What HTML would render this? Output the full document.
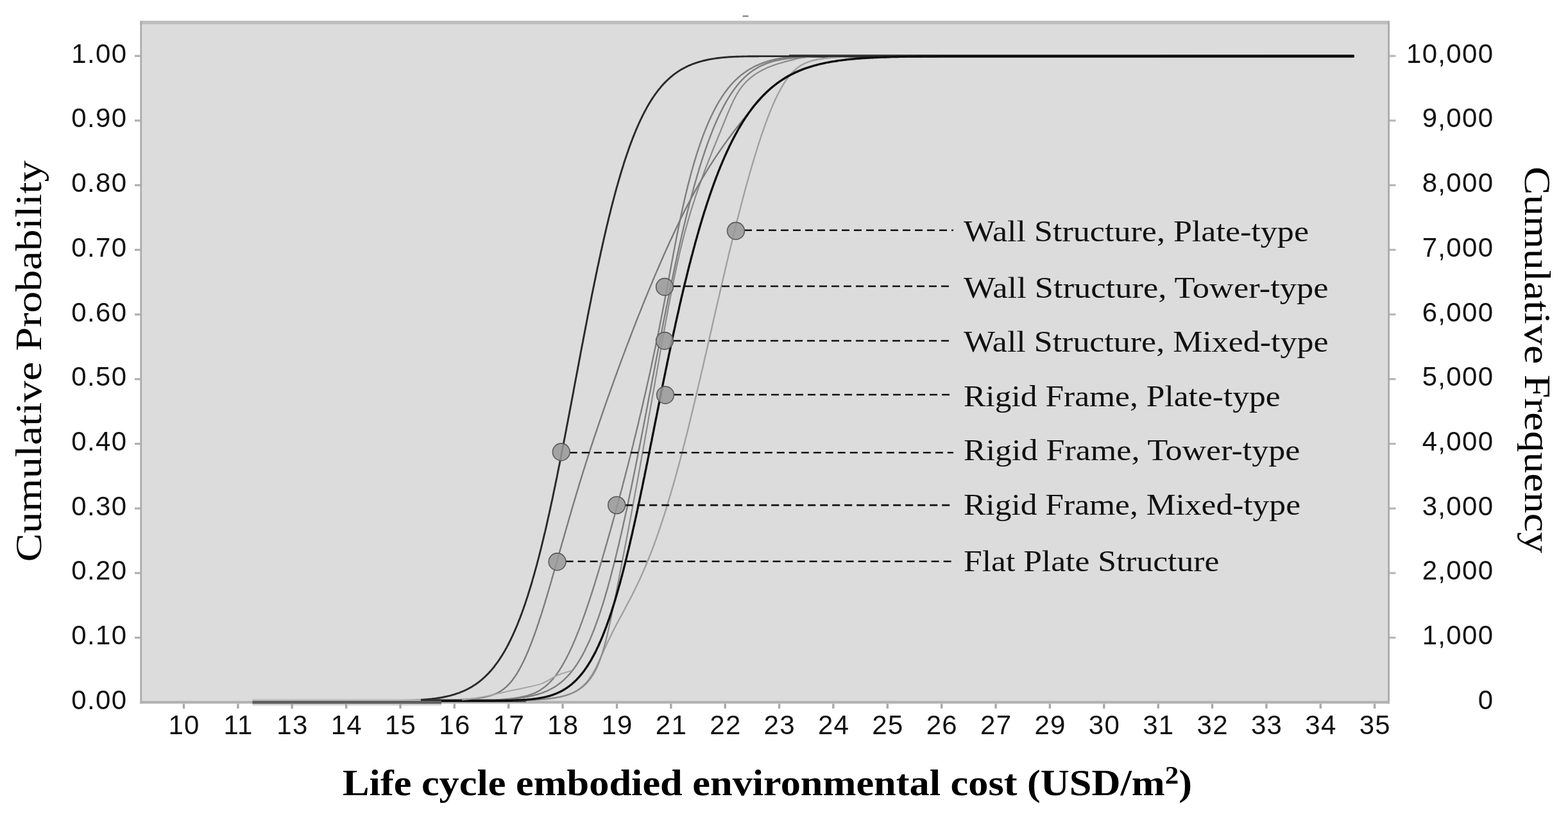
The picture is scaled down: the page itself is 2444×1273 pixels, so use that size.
<!DOCTYPE html><html><head><meta charset="utf-8"><title>Cumulative probability chart</title><style>html,body{margin:0;padding:0;background:#fff;overflow:hidden;}svg{display:block;}.tk{font-family:"Liberation Sans",Arial,sans-serif;font-size:42px;letter-spacing:1.3px;fill:#111;}.lg{font-family:"Liberation Serif","Times New Roman",serif;font-size:47px;fill:#111;}.ax{font-family:"Liberation Serif","Times New Roman",serif;font-size:58px;fill:#000;}.axb{font-family:"Liberation Serif","Times New Roman",serif;font-size:58px;font-weight:bold;fill:#000;}</style></head><body>
<svg width="2444" height="1273" viewBox="0 0 2444 1273">
<rect x="0" y="0" width="2444" height="1273" fill="#ffffff"/>
<rect x="218.5" y="33.0" width="1947.5" height="1063.5" fill="#dcdcdc"/>
<rect x="218.5" y="32.3" width="1947.5" height="5.5" fill="#bebebe"/>
<rect x="1157.5" y="24" width="9" height="2.4" fill="#8a8a8a"/>
<rect x="218.5" y="33.0" width="2.6" height="1063.5" fill="#aaaaaa"/>
<rect x="2163.2" y="33.0" width="2.8" height="1063.5" fill="#aaaaaa"/>
<rect x="218.5" y="1092.2" width="1947.5" height="4" fill="#b2b2b2"/>
<rect x="210" y="992.0" width="9" height="3.2" fill="#b0b0b0"/>
<rect x="2166.0" y="992.0" width="9.5" height="3.2" fill="#b8b8b8"/>
<rect x="210" y="891.3" width="9" height="3.2" fill="#b0b0b0"/>
<rect x="2166.0" y="891.3" width="9.5" height="3.2" fill="#b8b8b8"/>
<rect x="210" y="790.6" width="9" height="3.2" fill="#b0b0b0"/>
<rect x="2166.0" y="790.6" width="9.5" height="3.2" fill="#b8b8b8"/>
<rect x="210" y="689.9" width="9" height="3.2" fill="#b0b0b0"/>
<rect x="2166.0" y="689.9" width="9.5" height="3.2" fill="#b8b8b8"/>
<rect x="210" y="589.1" width="9" height="3.2" fill="#b0b0b0"/>
<rect x="2166.0" y="589.1" width="9.5" height="3.2" fill="#b8b8b8"/>
<rect x="210" y="488.4" width="9" height="3.2" fill="#b0b0b0"/>
<rect x="2166.0" y="488.4" width="9.5" height="3.2" fill="#b8b8b8"/>
<rect x="210" y="387.7" width="9" height="3.2" fill="#b0b0b0"/>
<rect x="2166.0" y="387.7" width="9.5" height="3.2" fill="#b8b8b8"/>
<rect x="210" y="287.0" width="9" height="3.2" fill="#b0b0b0"/>
<rect x="2166.0" y="287.0" width="9.5" height="3.2" fill="#b8b8b8"/>
<rect x="210" y="186.3" width="9" height="3.2" fill="#b0b0b0"/>
<rect x="2166.0" y="186.3" width="9.5" height="3.2" fill="#b8b8b8"/>
<rect x="210" y="85.6" width="9" height="3.2" fill="#b0b0b0"/>
<rect x="2166.0" y="85.6" width="9.5" height="3.2" fill="#b8b8b8"/>
<g fill="none" stroke-linecap="butt" stroke-linejoin="round">
<path d="M688,1091.8 L820,1091.8" stroke="#3a3a3a" stroke-width="4.6"/>
<path d="M1230,87.5 L2110,87.5" stroke="#444" stroke-width="4.8"/>
<path d="M394.0,1092.0 L768.9,1091.9 L770.5,1091.9 L772.1,1091.9 L773.7,1091.9 L775.3,1091.8 L776.9,1091.8 L778.6,1091.8 L780.2,1091.8 L781.8,1091.8 L783.4,1091.8 L785.0,1091.8 L786.6,1091.8 L788.2,1091.7 L789.8,1091.7 L791.4,1091.7 L793.0,1091.7 L794.6,1091.7 L796.2,1091.7 L797.8,1091.6 L799.5,1091.6 L801.1,1091.6 L802.7,1091.6 L804.3,1091.5 L805.9,1091.5 L807.5,1091.5 L809.1,1091.4 L810.7,1091.4 L812.3,1091.4 L813.9,1091.3 L815.5,1091.3 L817.1,1091.2 L818.7,1091.2 L820.4,1091.2 L822.0,1091.1 L823.6,1091.0 L825.2,1091.0 L826.8,1090.9 L828.4,1090.9 L830.0,1090.8 L831.6,1090.7 L833.2,1090.6 L834.8,1090.5 L836.4,1090.5 L838.0,1090.4 L839.6,1090.3 L841.3,1090.2 L842.9,1090.0 L844.5,1089.9 L846.1,1089.8 L847.7,1089.7 L849.3,1089.5 L850.9,1089.4 L852.5,1089.2 L854.1,1089.0 L855.7,1088.8 L856.8,1088.7 L857.9,1088.6 L858.9,1088.4 L860.0,1088.3 L861.1,1088.1 L862.1,1088.0 L863.2,1087.8 L864.3,1087.6 L865.4,1087.5 L866.4,1087.3 L867.5,1087.1 L868.6,1086.9 L869.7,1086.7 L870.7,1086.5 L871.8,1086.2 L872.9,1086.0 L873.9,1085.8 L875.0,1085.5 L876.1,1085.2 L877.2,1085.0 L878.2,1084.7 L879.3,1084.4 L880.4,1084.1 L881.4,1083.8 L882.5,1083.4 L883.6,1083.1 L884.7,1082.7 L885.7,1082.3 L886.8,1082.0 L887.9,1081.5 L888.9,1081.1 L890.0,1080.7 L891.1,1080.2 L892.1,1079.8 L893.2,1079.3 L894.2,1078.7 L895.3,1078.2 L896.3,1077.7 L897.3,1077.1 L898.3,1076.5 L899.4,1075.9 L900.4,1075.2 L901.4,1074.5 L902.4,1073.8 L903.4,1073.1 L904.4,1072.3 L905.4,1071.6 L906.3,1070.7 L907.3,1069.9 L908.3,1069.0 L909.3,1068.1 L910.3,1067.1 L911.2,1066.2 L912.2,1065.1 L913.2,1064.1 L914.2,1063.0 L915.1,1061.8 L916.1,1060.6 L917.1,1059.4 L918.1,1058.1 L919.0,1056.7 L920.0,1055.3 L920.5,1054.6 L921.0,1053.9 L921.5,1053.2 L922.0,1052.4 L922.5,1051.6 L922.9,1050.9 L923.4,1050.1 L923.9,1049.3 L924.4,1048.4 L924.9,1047.6 L925.4,1046.7 L925.9,1045.9 L926.4,1045.0 L926.9,1044.1 L927.4,1043.1 L927.9,1042.2 L928.4,1041.2 L928.9,1040.3 L929.4,1039.3 L929.9,1038.3 L930.4,1037.2 L930.9,1036.2 L931.4,1035.1 L931.9,1034.0 L932.4,1032.9 L932.9,1031.8 L933.5,1030.7 L934.0,1029.5 L934.5,1028.3 L935.1,1027.1 L935.6,1025.9 L936.2,1024.6 L936.8,1023.4 L937.3,1022.1 L937.9,1020.8 L938.5,1019.4 L939.1,1018.1 L939.8,1016.7 L940.4,1015.3 L941.0,1013.9 L941.7,1012.4 L942.4,1010.9 L943.0,1009.4 L943.7,1007.9 L944.5,1006.3 L945.2,1004.8 L945.9,1003.1 L946.7,1001.5 L947.5,999.8 L948.3,998.2 L949.1,996.4 L950.0,994.7 L950.8,992.9 L951.7,991.1 L952.6,989.3 L953.5,987.4 L954.5,985.5 L955.4,983.6 L956.4,981.7 L957.4,979.7 L958.5,977.7 L959.6,975.6 L960.6,973.5 L961.8,971.4 L962.9,969.3 L964.1,967.1 L965.2,964.9 L966.4,962.7 L967.7,960.4 L968.9,958.1 L970.2,955.8 L971.5,953.4 L972.7,951.0 L974.1,948.5 L975.4,946.0 L976.7,943.5 L978.1,941.0 L979.4,938.4 L980.8,935.8 L982.2,933.1 L983.6,930.4 L985.0,927.7 L986.4,924.9 L987.8,922.1 L989.2,919.3 L990.6,916.4 L992.0,913.5 L993.5,910.5 L994.9,907.5 L996.3,904.5 L997.7,901.4 L999.2,898.3 L1000.6,895.1 L1002.0,891.9 L1003.4,888.7 L1004.8,885.4 L1006.2,882.1 L1007.6,878.8 L1009.0,875.4 L1010.4,872.0 L1011.8,868.5 L1013.2,865.0 L1014.6,861.5 L1016.0,857.9 L1017.3,854.3 L1018.7,850.7 L1020.1,847.0 L1021.4,843.2 L1022.8,839.5 L1024.1,835.7 L1025.5,831.8 L1026.8,828.0 L1028.2,824.0 L1029.5,820.1 L1030.8,816.1 L1032.1,812.1 L1033.5,808.0 L1034.8,803.9 L1036.1,799.8 L1037.4,795.6 L1038.7,791.4 L1040.0,787.2 L1041.3,782.9 L1042.6,778.6 L1043.9,774.3 L1045.2,769.9 L1046.5,765.5 L1047.8,761.1 L1049.1,756.6 L1050.4,752.1 L1051.6,747.6 L1052.9,743.1 L1054.2,738.5 L1055.4,733.9 L1056.7,729.3 L1058.0,724.6 L1059.2,720.0 L1060.5,715.3 L1061.7,710.5 L1063.0,705.8 L1064.2,701.0 L1065.4,696.2 L1066.7,691.4 L1067.9,686.6 L1069.1,681.7 L1070.3,676.9 L1071.6,672.0 L1072.8,667.1 L1074.0,662.1 L1075.2,657.2 L1076.4,652.3 L1077.6,647.3 L1078.8,642.4 L1080.0,637.4 L1081.2,632.4 L1082.4,627.4 L1083.6,622.4 L1084.8,617.4 L1086.0,612.4 L1087.2,607.3 L1088.3,602.3 L1089.5,597.3 L1090.7,592.3 L1091.9,587.2 L1093.0,582.2 L1094.2,577.2 L1095.4,572.2 L1096.5,567.1 L1097.7,562.1 L1098.8,557.1 L1100.0,552.1 L1101.1,547.1 L1102.3,542.1 L1103.4,537.1 L1104.5,532.2 L1105.7,527.2 L1106.8,522.3 L1107.9,517.4 L1109.1,512.4 L1110.2,507.5 L1111.3,502.6 L1112.4,497.8 L1113.5,492.9 L1114.6,488.1 L1115.7,483.3 L1116.8,478.5 L1117.9,473.7 L1119.0,469.0 L1120.1,464.2 L1121.2,459.5 L1122.3,454.9 L1123.3,450.2 L1124.4,445.6 L1125.5,441.0 L1126.5,436.4 L1127.6,431.9 L1128.7,427.4 L1129.7,422.9 L1130.8,418.4 L1131.8,414.0 L1132.8,409.6 L1133.9,405.2 L1134.9,400.9 L1135.9,396.6 L1137.0,392.3 L1138.0,388.1 L1139.0,383.9 L1140.0,379.7 L1141.0,375.6 L1142.0,371.5 L1143.0,367.4 L1144.0,363.4 L1145.0,359.4 L1146.0,355.5 L1147.0,351.5 L1147.9,347.7 L1148.9,343.8 L1149.9,340.0 L1150.8,336.3 L1151.8,332.5 L1152.7,328.8 L1153.7,325.2 L1154.6,321.6 L1155.5,318.0 L1156.5,314.5 L1157.4,311.0 L1158.3,307.5 L1159.2,304.1 L1160.1,300.7 L1161.0,297.4 L1161.9,294.1 L1162.8,290.8 L1163.7,287.6 L1164.6,284.4 L1165.5,281.2 L1166.4,278.1 L1167.2,275.0 L1168.1,272.0 L1168.9,269.0 L1169.8,266.0 L1170.6,263.1 L1171.5,260.2 L1172.3,257.4 L1173.1,254.6 L1174.0,251.8 L1174.8,249.1 L1175.6,246.4 L1176.4,243.7 L1177.2,241.1 L1178.0,238.5 L1178.8,236.0 L1179.6,233.5 L1180.3,231.0 L1181.1,228.5 L1181.9,226.1 L1182.6,223.7 L1183.4,221.4 L1184.2,219.1 L1184.9,216.8 L1185.6,214.6 L1186.4,212.4 L1187.1,210.2 L1187.8,208.1 L1188.5,206.0 L1189.3,203.9 L1190.0,201.8 L1190.7,199.8 L1191.4,197.8 L1192.1,195.9 L1192.8,194.0 L1193.4,192.1 L1194.1,190.2 L1194.8,188.4 L1195.5,186.6 L1196.1,184.8 L1196.8,183.1 L1197.5,181.3 L1198.1,179.7 L1198.8,178.0 L1199.4,176.4 L1200.0,174.7 L1200.7,173.2 L1201.3,171.6 L1201.9,170.1 L1202.6,168.6 L1203.2,167.1 L1203.8,165.6 L1204.4,164.2 L1205.0,162.8 L1205.6,161.4 L1206.2,160.1 L1206.8,158.7 L1207.4,157.4 L1208.0,156.1 L1208.6,154.9 L1209.2,153.6 L1209.8,152.4 L1210.4,151.2 L1210.9,150.0 L1211.5,148.8 L1212.1,147.7 L1212.6,146.6 L1213.2,145.5 L1213.7,144.4 L1214.3,143.3 L1214.9,142.3 L1215.4,141.2 L1215.9,140.2 L1216.5,139.2 L1217.0,138.3 L1217.6,137.3 L1218.1,136.4 L1218.6,135.4 L1219.2,134.5 L1219.7,133.6 L1220.2,132.8 L1220.7,131.9 L1221.3,131.1 L1221.8,130.2 L1222.3,129.4 L1222.8,128.6 L1223.3,127.9 L1223.8,127.1 L1224.3,126.3 L1224.8,125.6 L1225.3,124.9 L1225.8,124.2 L1226.8,122.8 L1227.8,121.4 L1228.8,120.1 L1229.8,118.9 L1230.8,117.7 L1231.7,116.5 L1232.7,115.4 L1233.6,114.4 L1234.6,113.3 L1235.5,112.4 L1236.5,111.4 L1237.4,110.5 L1238.4,109.6 L1239.3,108.8 L1240.2,107.9 L1241.2,107.2 L1242.1,106.4 L1243.0,105.7 L1244.0,105.0 L1244.9,104.3 L1245.8,103.6 L1246.7,103.0 L1247.7,102.4 L1248.6,101.8 L1249.5,101.3 L1250.5,100.8 L1251.4,100.2 L1252.4,99.7 L1253.3,99.3 L1254.3,98.8 L1255.2,98.4 L1256.2,98.0 L1257.2,97.5 L1258.1,97.2 L1259.1,96.8 L1260.1,96.4 L1261.1,96.1 L1262.1,95.7 L1263.1,95.4 L1264.1,95.1 L1265.1,94.8 L1266.1,94.5 L1267.2,94.3 L1268.2,94.0 L1269.3,93.7 L1270.4,93.5 L1271.4,93.3 L1272.5,93.0 L1273.6,92.8 L1274.7,92.6 L1275.9,92.4 L1277.0,92.2 L1278.1,92.0 L1279.2,91.9 L1280.3,91.7 L1281.5,91.5 L1282.6,91.4 L1283.7,91.2 L1284.8,91.1 L1286.0,90.9 L1287.1,90.8 L1288.2,90.7 L1289.3,90.5 L1290.4,90.4 L1291.6,90.3 L1292.7,90.2 L1293.8,90.1 L1294.9,90.0 L1296.0,89.9 L1297.2,89.8 L1298.3,89.7 L1299.4,89.6 L1300.5,89.5 L1301.6,89.5 L1303.3,89.3 L1305.0,89.2 L1306.7,89.1 L1308.4,89.0 L1310.1,89.0 L1311.7,88.9 L1313.4,88.8 L1315.1,88.7 L1316.8,88.6 L1318.5,88.6 L1320.1,88.5 L1321.8,88.5 L1323.5,88.4 L1325.2,88.3 L1326.9,88.3 L1328.6,88.3 L1330.2,88.2 L1331.9,88.2 L1333.6,88.1 L1335.3,88.1 L1337.0,88.1 L1338.6,88.0 L1340.3,88.0 L1342.0,88.0 L1343.7,87.9 L1345.4,87.9 L1347.0,87.9 L1348.7,87.9 L1350.4,87.8 L1352.1,87.8 L1353.8,87.8 L1355.5,87.8 L1357.1,87.8 L1358.8,87.8 L1360.5,87.7 L1362.2,87.7 L1363.9,87.7 L1365.5,87.7 L1367.2,87.7 L1368.9,87.7 L1370.6,87.7 L1372.3,87.7 L1374.0,87.6 L1375.6,87.6 L1377.3,87.6 L1379.0,87.6 L2111.0,87.5" stroke="#a0a0a0" stroke-width="2.4"/>
<path d="M394.0,1092.0 L749.4,1091.9 L750.7,1091.9 L752.0,1091.9 L753.2,1091.9 L754.5,1091.9 L755.7,1091.8 L757.0,1091.8 L758.3,1091.8 L759.5,1091.8 L760.8,1091.8 L762.0,1091.8 L763.3,1091.8 L764.6,1091.8 L765.8,1091.8 L767.1,1091.8 L768.3,1091.8 L769.6,1091.8 L770.9,1091.8 L772.1,1091.7 L773.4,1091.7 L774.7,1091.7 L775.9,1091.7 L777.2,1091.7 L778.4,1091.7 L779.7,1091.7 L781.0,1091.7 L782.2,1091.6 L783.5,1091.6 L784.7,1091.6 L786.0,1091.6 L787.3,1091.6 L788.5,1091.6 L789.8,1091.6 L791.1,1091.5 L792.3,1091.5 L793.6,1091.5 L794.8,1091.5 L796.1,1091.5 L797.4,1091.4 L798.6,1091.4 L799.9,1091.4 L801.1,1091.4 L802.4,1091.3 L803.7,1091.3 L804.9,1091.3 L806.2,1091.2 L807.5,1091.2 L808.7,1091.2 L810.0,1091.2 L811.2,1091.1 L812.5,1091.1 L813.8,1091.0 L815.0,1091.0 L816.3,1091.0 L817.5,1090.9 L818.8,1090.9 L820.1,1090.8 L821.3,1090.8 L822.6,1090.7 L823.9,1090.7 L825.1,1090.6 L826.4,1090.6 L827.6,1090.5 L828.9,1090.5 L830.2,1090.4 L831.4,1090.3 L832.7,1090.3 L833.9,1090.2 L835.2,1090.1 L836.5,1090.0 L837.7,1090.0 L839.0,1089.9 L840.3,1089.8 L841.5,1089.7 L842.8,1089.6 L844.0,1089.5 L845.3,1089.4 L846.6,1089.3 L847.8,1089.2 L849.1,1089.1 L850.3,1089.0 L851.6,1088.8 L852.9,1088.7 L854.1,1088.6 L855.4,1088.4 L856.6,1088.3 L857.9,1088.1 L859.1,1088.0 L860.3,1087.8 L861.6,1087.6 L862.8,1087.5 L864.0,1087.3 L865.2,1087.1 L866.4,1086.9 L867.7,1086.7 L868.9,1086.5 L870.1,1086.2 L871.3,1086.0 L872.5,1085.8 L873.7,1085.5 L874.9,1085.2 L876.0,1085.0 L877.2,1084.7 L878.4,1084.4 L879.6,1084.1 L880.8,1083.8 L881.9,1083.4 L883.1,1083.1 L884.2,1082.7 L885.4,1082.3 L886.5,1082.0 L887.7,1081.5 L888.8,1081.1 L890.0,1080.7 L891.1,1080.2 L892.2,1079.8 L893.3,1079.3 L894.4,1078.7 L895.6,1078.2 L896.7,1077.7 L897.8,1077.1 L898.9,1076.5 L900.0,1075.9 L901.0,1075.2 L902.1,1074.5 L903.2,1073.8 L904.3,1073.1 L905.3,1072.3 L906.4,1071.6 L907.5,1070.7 L908.5,1069.9 L909.6,1069.0 L910.6,1068.1 L911.6,1067.1 L912.7,1066.2 L913.7,1065.1 L914.7,1064.1 L915.7,1063.0 L916.7,1061.8 L917.7,1060.6 L918.7,1059.4 L919.7,1058.1 L920.7,1056.7 L921.7,1055.3 L922.2,1054.6 L922.6,1053.9 L923.1,1053.2 L923.6,1052.4 L924.1,1051.6 L924.6,1050.9 L925.1,1050.1 L925.5,1049.3 L926.0,1048.4 L926.5,1047.6 L927.0,1046.7 L927.4,1045.9 L927.9,1045.0 L928.4,1044.1 L928.8,1043.1 L929.3,1042.2 L929.8,1041.2 L930.2,1040.3 L930.7,1039.3 L931.1,1038.3 L931.6,1037.2 L932.0,1036.2 L932.5,1035.1 L932.9,1034.0 L933.4,1032.9 L933.8,1031.8 L934.3,1030.7 L934.7,1029.5 L935.2,1028.3 L935.6,1027.1 L936.1,1025.9 L936.5,1024.6 L936.9,1023.4 L937.4,1022.1 L937.8,1020.8 L938.2,1019.4 L938.7,1018.1 L939.1,1016.7 L939.5,1015.3 L940.0,1013.9 L940.4,1012.4 L940.8,1010.9 L941.3,1009.4 L941.7,1007.9 L942.1,1006.3 L942.6,1004.8 L943.0,1003.1 L943.4,1001.5 L943.8,999.8 L944.3,998.2 L944.7,996.4 L945.1,994.7 L945.6,992.9 L946.0,991.1 L946.5,989.3 L946.9,987.4 L947.3,985.5 L947.8,983.6 L948.2,981.7 L948.7,979.7 L949.1,977.7 L949.6,975.6 L950.1,973.5 L950.5,971.4 L951.0,969.3 L951.5,967.1 L951.9,964.9 L952.4,962.7 L952.9,960.4 L953.4,958.1 L953.8,955.8 L954.3,953.4 L954.8,951.0 L955.3,948.5 L955.8,946.0 L956.3,943.5 L956.9,941.0 L957.4,938.4 L957.9,935.8 L958.4,933.1 L959.0,930.4 L959.5,927.7 L960.1,924.9 L960.6,922.1 L961.2,919.3 L961.7,916.4 L962.3,913.5 L962.9,910.5 L963.5,907.5 L964.1,904.5 L964.7,901.4 L965.3,898.3 L965.9,895.1 L966.5,891.9 L967.1,888.7 L967.8,885.4 L968.4,882.1 L969.0,878.8 L969.7,875.4 L970.4,872.0 L971.0,868.5 L971.7,865.0 L972.4,861.5 L973.1,857.9 L973.8,854.3 L974.5,850.7 L975.2,847.0 L975.9,843.2 L976.6,839.5 L977.4,835.7 L978.1,831.8 L978.8,828.0 L979.6,824.0 L980.3,820.1 L981.1,816.1 L981.8,812.1 L982.6,808.0 L983.4,803.9 L984.2,799.8 L984.9,795.6 L985.7,791.4 L986.5,787.2 L987.3,782.9 L988.1,778.6 L988.9,774.3 L989.7,769.9 L990.5,765.5 L991.3,761.1 L992.2,756.6 L993.0,752.1 L993.8,747.6 L994.6,743.1 L995.5,738.5 L996.3,733.9 L997.2,729.3 L998.0,724.6 L998.8,720.0 L999.7,715.3 L1000.5,710.5 L1001.4,705.8 L1002.3,701.0 L1003.1,696.2 L1004.0,691.4 L1004.8,686.6 L1005.7,681.7 L1006.6,676.9 L1007.4,672.0 L1008.3,667.1 L1009.2,662.1 L1010.1,657.2 L1010.9,652.3 L1011.8,647.3 L1012.7,642.4 L1013.6,637.4 L1014.5,632.4 L1015.3,627.4 L1016.2,622.4 L1017.1,617.4 L1018.0,612.4 L1018.9,607.3 L1019.8,602.3 L1020.7,597.3 L1021.5,592.3 L1022.4,587.2 L1023.3,582.2 L1024.2,577.2 L1025.1,572.2 L1026.0,567.1 L1026.9,562.1 L1027.8,557.1 L1028.6,552.1 L1029.5,547.1 L1030.4,542.1 L1031.3,537.1 L1032.2,532.2 L1033.1,527.2 L1033.9,522.3 L1034.8,517.4 L1035.7,512.4 L1036.6,507.5 L1037.5,502.6 L1038.4,497.8 L1039.3,492.9 L1040.1,488.1 L1041.0,483.3 L1041.9,478.5 L1042.8,473.7 L1043.7,469.0 L1044.7,464.2 L1045.6,459.5 L1046.5,454.9 L1047.4,450.2 L1048.3,445.6 L1049.3,441.0 L1050.2,436.4 L1051.1,431.9 L1052.1,427.4 L1053.0,422.9 L1054.0,418.4 L1054.9,414.0 L1055.9,409.6 L1056.9,405.2 L1057.9,400.9 L1058.8,396.6 L1059.8,392.3 L1060.8,388.1 L1061.9,383.9 L1062.9,379.7 L1063.9,375.6 L1064.9,371.5 L1066.0,367.4 L1067.0,363.4 L1068.1,359.4 L1069.2,355.5 L1070.3,351.5 L1071.4,347.7 L1072.5,343.8 L1073.6,340.0 L1074.7,336.3 L1075.8,332.5 L1076.9,328.8 L1078.0,325.2 L1079.2,321.6 L1080.3,318.0 L1081.4,314.5 L1082.6,311.0 L1083.7,307.5 L1084.8,304.1 L1086.0,300.7 L1087.1,297.4 L1088.3,294.1 L1089.4,290.8 L1090.5,287.6 L1091.7,284.4 L1092.8,281.2 L1094.0,278.1 L1095.1,275.0 L1096.2,272.0 L1097.3,269.0 L1098.4,266.0 L1099.5,263.1 L1100.6,260.2 L1101.7,257.4 L1102.8,254.6 L1103.9,251.8 L1105.0,249.1 L1106.1,246.4 L1107.1,243.7 L1108.2,241.1 L1109.2,238.5 L1110.2,236.0 L1111.2,233.5 L1112.2,231.0 L1113.2,228.5 L1114.2,226.1 L1115.2,223.7 L1116.1,221.4 L1117.1,219.1 L1118.0,216.8 L1118.9,214.6 L1119.8,212.4 L1120.7,210.2 L1121.6,208.1 L1122.5,206.0 L1123.3,203.9 L1124.1,201.8 L1124.9,199.8 L1125.7,197.8 L1126.5,195.9 L1127.3,194.0 L1128.1,192.1 L1128.8,190.2 L1129.6,188.4 L1130.3,186.6 L1131.0,184.8 L1131.7,183.1 L1132.5,181.3 L1133.1,179.7 L1133.8,178.0 L1134.5,176.4 L1135.2,174.7 L1135.9,173.2 L1136.5,171.6 L1137.2,170.1 L1137.8,168.6 L1138.5,167.1 L1139.1,165.6 L1139.8,164.2 L1140.4,162.8 L1141.1,161.4 L1141.7,160.1 L1142.3,158.7 L1143.0,157.4 L1143.6,156.1 L1144.2,154.9 L1144.8,153.6 L1145.5,152.4 L1146.1,151.2 L1146.7,150.0 L1147.4,148.8 L1148.0,147.7 L1148.7,146.6 L1149.3,145.5 L1150.0,144.4 L1150.6,143.3 L1151.3,142.3 L1152.0,141.2 L1152.6,140.2 L1153.3,139.2 L1154.0,138.3 L1154.7,137.3 L1155.4,136.4 L1156.1,135.4 L1156.8,134.5 L1157.5,133.6 L1158.2,132.8 L1159.0,131.9 L1159.7,131.1 L1160.4,130.2 L1161.2,129.4 L1161.9,128.6 L1162.7,127.9 L1163.5,127.1 L1164.2,126.3 L1165.0,125.6 L1165.8,124.9 L1166.5,124.2 L1167.3,123.5 L1168.1,122.8 L1168.9,122.1 L1169.7,121.4 L1170.5,120.8 L1171.3,120.1 L1172.1,119.5 L1172.9,118.9 L1173.7,118.3 L1174.5,117.7 L1175.3,117.1 L1176.1,116.5 L1176.9,116.0 L1177.7,115.4 L1178.5,114.9 L1179.4,114.4 L1180.2,113.9 L1181.0,113.3 L1181.8,112.8 L1182.6,112.4 L1183.5,111.9 L1184.3,111.4 L1185.1,110.9 L1185.9,110.5 L1186.8,110.0 L1187.6,109.6 L1188.4,109.2 L1189.2,108.8 L1190.1,108.3 L1190.9,107.9 L1191.7,107.5 L1192.5,107.2 L1193.4,106.8 L1195.0,106.0 L1196.6,105.3 L1198.2,104.6 L1199.9,104.0 L1201.5,103.3 L1203.1,102.7 L1204.7,102.1 L1206.2,101.6 L1207.8,101.0 L1209.3,100.5 L1210.8,100.0 L1212.3,99.5 L1213.8,99.0 L1215.3,98.6 L1216.7,98.2 L1218.1,97.7 L1219.5,97.3 L1220.9,97.0 L1222.2,96.6 L1223.5,96.2 L1224.8,95.9 L1226.1,95.6 L1227.3,95.3 L1228.5,95.0 L1229.6,94.7 L1230.7,94.4 L1231.8,94.1 L1232.9,93.9 L1233.9,93.6 L1235.3,93.3 L1236.6,92.9 L1237.8,92.6 L1239.0,92.3 L1240.0,92.0 L1240.9,91.8 L1242.2,91.4 L1243.5,91.1 L1244.7,90.9 L1246.0,90.6 L1247.3,90.4 L1248.5,90.1 L1249.8,89.9 L1251.0,89.8 L1252.3,89.6 L1253.6,89.4 L1254.8,89.3 L1256.1,89.1 L1257.4,89.0 L1258.6,88.9 L1259.9,88.8 L1261.1,88.7 L1262.4,88.6 L1263.7,88.5 L1264.9,88.4 L1266.2,88.4 L1267.5,88.3 L1268.7,88.2 L1270.0,88.2 L1271.3,88.1 L1272.5,88.1 L1273.8,88.0 L1275.0,88.0 L1276.3,88.0 L1277.6,87.9 L1278.8,87.9 L1280.1,87.9 L1281.4,87.8 L1282.6,87.8 L1283.9,87.8 L1285.1,87.8 L1286.4,87.7 L1287.7,87.7 L1288.9,87.7 L1290.2,87.7 L1291.5,87.7 L1292.7,87.7 L1294.0,87.6 L1295.3,87.6 L1296.5,87.6 L2111.0,87.5" stroke="#8a8a8a" stroke-width="2.2"/>
<path d="M394.0,1092.0 L686.0,1091.9 L687.4,1091.9 L688.8,1091.9 L690.1,1091.9 L691.5,1091.9 L692.9,1091.8 L694.3,1091.8 L695.6,1091.8 L697.0,1091.8 L698.4,1091.8 L699.8,1091.8 L701.2,1091.8 L702.5,1091.8 L703.9,1091.8 L705.3,1091.8 L706.7,1091.8 L708.1,1091.8 L709.4,1091.8 L710.8,1091.7 L712.2,1091.7 L713.6,1091.7 L714.9,1091.7 L716.3,1091.7 L717.7,1091.7 L719.1,1091.7 L720.5,1091.7 L721.8,1091.6 L723.2,1091.6 L724.6,1091.6 L726.0,1091.6 L727.4,1091.6 L728.7,1091.6 L730.1,1091.6 L731.5,1091.5 L732.9,1091.5 L734.2,1091.5 L735.6,1091.5 L737.0,1091.5 L738.4,1091.4 L739.8,1091.4 L741.1,1091.4 L742.5,1091.4 L743.9,1091.3 L745.3,1091.3 L746.6,1091.3 L748.0,1091.2 L749.4,1091.2 L750.8,1091.2 L752.2,1091.2 L753.5,1091.1 L754.9,1091.1 L756.3,1091.0 L757.7,1091.0 L759.1,1091.0 L760.4,1090.9 L761.8,1090.9 L763.2,1090.8 L764.6,1090.8 L765.9,1090.7 L767.3,1090.7 L768.7,1090.6 L770.1,1090.6 L771.5,1090.5 L772.8,1090.5 L774.2,1090.4 L775.6,1090.3 L777.0,1090.3 L778.4,1090.2 L779.7,1090.1 L781.1,1090.0 L782.5,1090.0 L783.9,1089.9 L785.2,1089.8 L786.6,1089.7 L788.0,1089.6 L789.4,1089.5 L790.8,1089.4 L792.1,1089.3 L793.5,1089.2 L794.9,1089.1 L796.3,1089.0 L797.7,1088.8 L799.0,1088.7 L800.4,1088.6 L801.8,1088.4 L803.2,1088.3 L804.5,1088.1 L805.9,1088.0 L807.3,1087.8 L808.7,1087.6 L810.1,1087.5 L811.4,1087.3 L812.8,1087.1 L814.2,1086.9 L815.6,1086.7 L817.0,1086.5 L818.3,1086.2 L819.7,1086.0 L821.1,1085.8 L822.5,1085.5 L823.8,1085.2 L825.2,1085.0 L826.6,1084.7 L828.0,1084.4 L829.4,1084.1 L830.7,1083.8 L832.1,1083.4 L833.5,1083.1 L834.9,1082.7 L836.3,1082.3 L837.6,1082.0 L839.0,1081.5 L840.4,1081.1 L841.8,1080.7 L843.1,1080.2 L844.5,1079.8 L845.9,1079.3 L847.3,1078.7 L848.7,1078.2 L850.0,1077.7 L851.4,1077.1 L852.8,1076.5 L854.2,1075.9 L855.5,1075.2 L856.9,1074.5 L858.3,1073.8 L859.7,1073.1 L861.0,1072.3 L862.4,1071.6 L863.8,1070.7 L865.1,1069.9 L866.5,1069.0 L867.9,1068.1 L869.2,1067.1 L870.6,1066.2 L872.0,1065.1 L872.7,1064.6 L873.4,1064.1 L874.0,1063.5 L874.7,1063.0 L875.4,1062.4 L876.1,1061.8 L876.8,1061.2 L877.5,1060.6 L878.2,1060.0 L878.9,1059.4 L879.6,1058.7 L880.2,1058.1 L880.9,1057.4 L881.6,1056.7 L882.3,1056.0 L883.0,1055.3 L883.7,1054.6 L884.4,1053.9 L885.1,1053.2 L885.8,1052.4 L886.5,1051.6 L887.2,1050.9 L887.9,1050.1 L888.6,1049.3 L889.3,1048.4 L890.0,1047.6 L890.7,1046.7 L891.4,1045.9 L892.1,1045.0 L892.8,1044.1 L893.5,1043.1 L894.2,1042.2 L894.9,1041.2 L895.6,1040.3 L896.3,1039.3 L897.0,1038.3 L897.7,1037.2 L898.4,1036.2 L899.1,1035.1 L899.9,1034.0 L900.6,1032.9 L901.3,1031.8 L902.0,1030.7 L902.7,1029.5 L903.4,1028.3 L904.1,1027.1 L904.9,1025.9 L905.6,1024.6 L906.3,1023.4 L907.0,1022.1 L907.8,1020.8 L908.5,1019.4 L909.2,1018.1 L909.9,1016.7 L910.7,1015.3 L911.4,1013.9 L912.1,1012.4 L912.9,1010.9 L913.6,1009.4 L914.3,1007.9 L915.1,1006.3 L915.8,1004.8 L916.6,1003.1 L917.3,1001.5 L918.1,999.8 L918.8,998.2 L919.6,996.4 L920.3,994.7 L921.1,992.9 L921.8,991.1 L922.6,989.3 L923.3,987.4 L924.1,985.5 L924.8,983.6 L925.6,981.7 L926.4,979.7 L927.1,977.7 L927.9,975.6 L928.7,973.5 L929.4,971.4 L930.2,969.3 L931.0,967.1 L931.8,964.9 L932.6,962.7 L933.3,960.4 L934.1,958.1 L934.9,955.8 L935.7,953.4 L936.5,951.0 L937.3,948.5 L938.1,946.0 L938.9,943.5 L939.7,941.0 L940.5,938.4 L941.3,935.8 L942.1,933.1 L942.9,930.4 L943.7,927.7 L944.5,924.9 L945.3,922.1 L946.1,919.3 L947.0,916.4 L947.8,913.5 L948.6,910.5 L949.4,907.5 L950.3,904.5 L951.1,901.4 L951.9,898.3 L952.8,895.1 L953.6,891.9 L954.4,888.7 L955.3,885.4 L956.1,882.1 L957.0,878.8 L957.8,875.4 L958.7,872.0 L959.6,868.5 L960.4,865.0 L961.3,861.5 L962.1,857.9 L963.0,854.3 L963.9,850.7 L964.8,847.0 L965.6,843.2 L966.5,839.5 L967.4,835.7 L968.3,831.8 L969.2,828.0 L970.1,824.0 L971.0,820.1 L971.8,816.1 L972.7,812.1 L973.6,808.0 L974.5,803.9 L975.4,799.8 L976.4,795.6 L977.3,791.4 L978.2,787.2 L979.1,782.9 L980.0,778.6 L980.9,774.3 L981.8,769.9 L982.7,765.5 L983.7,761.1 L984.6,756.6 L985.5,752.1 L986.4,747.6 L987.4,743.1 L988.3,738.5 L989.2,733.9 L990.2,729.3 L991.1,724.6 L992.0,720.0 L993.0,715.3 L993.9,710.5 L994.8,705.8 L995.8,701.0 L996.7,696.2 L997.7,691.4 L998.6,686.6 L999.6,681.7 L1000.5,676.9 L1001.5,672.0 L1002.4,667.1 L1003.4,662.1 L1004.3,657.2 L1005.3,652.3 L1006.2,647.3 L1007.2,642.4 L1008.1,637.4 L1009.1,632.4 L1010.0,627.4 L1011.0,622.4 L1011.9,617.4 L1012.9,612.4 L1013.9,607.3 L1014.8,602.3 L1015.8,597.3 L1016.7,592.3 L1017.7,587.2 L1018.7,582.2 L1019.6,577.2 L1020.6,572.2 L1021.5,567.1 L1022.5,562.1 L1023.5,557.1 L1024.4,552.1 L1025.4,547.1 L1026.3,542.1 L1027.3,537.1 L1028.3,532.2 L1029.2,527.2 L1030.2,522.3 L1031.2,517.4 L1032.1,512.4 L1033.1,507.5 L1034.0,502.6 L1035.0,497.8 L1035.9,492.9 L1036.9,488.1 L1037.9,483.3 L1038.8,478.5 L1039.8,473.7 L1040.7,469.0 L1041.7,464.2 L1042.7,459.5 L1043.6,454.9 L1044.6,450.2 L1045.5,445.6 L1046.5,441.0 L1047.4,436.4 L1048.4,431.9 L1049.3,427.4 L1050.3,422.9 L1051.2,418.4 L1052.2,414.0 L1053.1,409.6 L1054.1,405.2 L1055.0,400.9 L1055.9,396.6 L1056.9,392.3 L1057.8,388.1 L1058.8,383.9 L1059.7,379.7 L1060.6,375.6 L1061.6,371.5 L1062.5,367.4 L1063.4,363.4 L1064.4,359.4 L1065.3,355.5 L1066.2,351.5 L1067.2,347.7 L1068.1,343.8 L1069.0,340.0 L1069.9,336.3 L1070.9,332.5 L1071.8,328.8 L1072.7,325.2 L1073.6,321.6 L1074.5,318.0 L1075.5,314.5 L1076.4,311.0 L1077.3,307.5 L1078.2,304.1 L1079.1,300.7 L1080.0,297.4 L1080.9,294.1 L1081.8,290.8 L1082.7,287.6 L1083.6,284.4 L1084.5,281.2 L1085.4,278.1 L1086.3,275.0 L1087.2,272.0 L1088.1,269.0 L1089.0,266.0 L1089.8,263.1 L1090.7,260.2 L1091.6,257.4 L1092.5,254.6 L1093.4,251.8 L1094.2,249.1 L1095.1,246.4 L1096.0,243.7 L1096.9,241.1 L1097.7,238.5 L1098.6,236.0 L1099.4,233.5 L1100.3,231.0 L1101.2,228.5 L1102.0,226.1 L1102.9,223.7 L1103.7,221.4 L1104.6,219.1 L1105.4,216.8 L1106.3,214.6 L1107.1,212.4 L1107.9,210.2 L1108.8,208.1 L1109.6,206.0 L1110.4,203.9 L1111.3,201.8 L1112.1,199.8 L1112.9,197.8 L1113.7,195.9 L1114.5,194.0 L1115.3,192.1 L1116.1,190.2 L1117.0,188.4 L1117.8,186.6 L1118.6,184.8 L1119.4,183.1 L1120.2,181.3 L1121.0,179.7 L1121.7,178.0 L1122.5,176.4 L1123.3,174.7 L1124.1,173.2 L1124.9,171.6 L1125.7,170.1 L1126.4,168.6 L1127.2,167.1 L1128.0,165.6 L1128.7,164.2 L1129.5,162.8 L1130.3,161.4 L1131.0,160.1 L1131.8,158.7 L1132.5,157.4 L1133.3,156.1 L1134.1,154.9 L1134.8,153.6 L1135.5,152.4 L1136.3,151.2 L1137.0,150.0 L1137.8,148.8 L1138.5,147.7 L1139.2,146.6 L1140.0,145.5 L1140.7,144.4 L1141.4,143.3 L1142.2,142.3 L1142.9,141.2 L1143.6,140.2 L1144.3,139.2 L1145.0,138.3 L1145.8,137.3 L1146.5,136.4 L1147.2,135.4 L1147.9,134.5 L1148.6,133.6 L1149.3,132.8 L1150.0,131.9 L1150.7,131.1 L1151.4,130.2 L1152.1,129.4 L1152.8,128.6 L1153.5,127.9 L1154.2,127.1 L1154.9,126.3 L1155.6,125.6 L1156.2,124.9 L1156.9,124.2 L1157.6,123.5 L1158.3,122.8 L1159.0,122.1 L1159.6,121.4 L1160.3,120.8 L1161.0,120.1 L1161.7,119.5 L1162.3,118.9 L1163.0,118.3 L1163.7,117.7 L1164.3,117.1 L1165.0,116.5 L1165.6,116.0 L1166.3,115.4 L1167.6,114.4 L1168.9,113.3 L1170.2,112.4 L1171.5,111.4 L1172.8,110.5 L1174.1,109.6 L1175.4,108.8 L1176.6,107.9 L1177.9,107.2 L1179.2,106.4 L1180.4,105.7 L1181.7,105.0 L1182.9,104.3 L1184.2,103.6 L1185.4,103.0 L1186.6,102.4 L1187.8,101.8 L1189.1,101.3 L1190.3,100.8 L1191.5,100.2 L1192.7,99.7 L1193.9,99.3 L1195.1,98.8 L1196.3,98.4 L1197.5,98.0 L1198.7,97.5 L1199.9,97.2 L1201.1,96.8 L1202.3,96.4 L1203.5,96.1 L1204.6,95.7 L1205.8,95.4 L1207.0,95.1 L1208.2,94.8 L1209.3,94.5 L1210.5,94.3 L1211.7,94.0 L1212.8,93.7 L1214.0,93.5 L1215.1,93.3 L1216.3,93.0 L1217.5,92.8 L1218.6,92.6 L1219.8,92.4 L1220.9,92.2 L1222.1,92.0 L1223.2,91.9 L1224.4,91.7 L1225.6,91.5 L1226.7,91.4 L1227.9,91.2 L1229.0,91.1 L1230.2,90.9 L1231.3,90.8 L1232.5,90.7 L1233.6,90.5 L1234.8,90.4 L1235.9,90.3 L1237.1,90.2 L1238.3,90.1 L1239.4,90.0 L1240.6,89.9 L1241.7,89.8 L1242.9,89.7 L1244.1,89.6 L1245.2,89.5 L1246.4,89.5 L1247.5,89.4 L1248.7,89.3 L1249.9,89.2 L1251.0,89.2 L1252.2,89.1 L1253.4,89.0 L1254.5,89.0 L1255.7,88.9 L1256.8,88.9 L1258.0,88.8 L1259.2,88.8 L1260.3,88.7 L1261.5,88.7 L1262.6,88.6 L1263.8,88.6 L1265.0,88.5 L1266.1,88.5 L1267.9,88.4 L1269.6,88.4 L1271.3,88.3 L1273.1,88.3 L1274.8,88.2 L1276.6,88.2 L1278.3,88.2 L1280.1,88.1 L1281.8,88.1 L1283.5,88.0 L1285.3,88.0 L1287.0,88.0 L1288.8,88.0 L1290.5,87.9 L1292.2,87.9 L1294.0,87.9 L1295.7,87.9 L1297.5,87.8 L1299.2,87.8 L1301.0,87.8 L1302.7,87.8 L1304.4,87.8 L1306.2,87.7 L1307.9,87.7 L1309.7,87.7 L1311.4,87.7 L1313.1,87.7 L1314.9,87.7 L1316.6,87.7 L1318.4,87.7 L1320.1,87.7 L1321.9,87.6 L1323.6,87.6 L1325.3,87.6 L2111.0,87.5" stroke="#7e7e7e" stroke-width="2.4"/>
<path d="M394.0,1092.0 L699.3,1091.9 L701.1,1091.9 L702.9,1091.9 L704.6,1091.9 L706.4,1091.8 L708.1,1091.8 L709.9,1091.8 L711.6,1091.8 L713.4,1091.8 L715.1,1091.8 L716.9,1091.8 L718.7,1091.8 L720.4,1091.7 L722.2,1091.7 L723.9,1091.7 L725.7,1091.7 L727.4,1091.7 L729.2,1091.7 L730.9,1091.6 L732.7,1091.6 L734.4,1091.6 L736.2,1091.6 L738.0,1091.5 L739.7,1091.5 L741.5,1091.5 L743.2,1091.4 L745.0,1091.4 L746.7,1091.4 L748.5,1091.3 L750.2,1091.3 L752.0,1091.2 L753.2,1091.2 L754.3,1091.2 L755.5,1091.2 L756.7,1091.1 L757.8,1091.1 L759.0,1091.0 L760.2,1091.0 L761.4,1091.0 L762.5,1090.9 L763.7,1090.9 L764.9,1090.8 L766.0,1090.8 L767.2,1090.7 L768.4,1090.7 L769.5,1090.6 L770.7,1090.6 L771.9,1090.5 L773.1,1090.5 L774.2,1090.4 L775.4,1090.3 L776.6,1090.3 L777.7,1090.2 L778.9,1090.1 L780.1,1090.0 L781.2,1090.0 L782.4,1089.9 L783.6,1089.8 L784.8,1089.7 L785.9,1089.6 L787.1,1089.5 L788.3,1089.4 L789.4,1089.3 L790.6,1089.2 L791.8,1089.1 L792.9,1089.0 L794.1,1088.8 L795.3,1088.7 L796.5,1088.6 L797.6,1088.4 L798.8,1088.3 L800.0,1088.1 L801.1,1088.0 L802.3,1087.8 L803.5,1087.6 L804.6,1087.5 L805.8,1087.3 L807.0,1087.1 L808.2,1086.9 L809.3,1086.7 L810.5,1086.5 L811.7,1086.2 L812.8,1086.0 L814.0,1085.8 L815.2,1085.5 L816.3,1085.2 L817.5,1085.0 L818.7,1084.7 L819.9,1084.4 L821.0,1084.1 L822.2,1083.8 L823.4,1083.4 L824.5,1083.1 L825.6,1082.7 L826.8,1082.3 L827.9,1082.0 L829.0,1081.5 L830.1,1081.1 L831.3,1080.7 L832.4,1080.2 L833.5,1079.8 L834.6,1079.3 L835.6,1078.7 L836.7,1078.2 L837.8,1077.7 L838.9,1077.1 L840.0,1076.5 L841.0,1075.9 L842.1,1075.2 L843.2,1074.5 L844.3,1073.8 L845.3,1073.1 L846.4,1072.3 L847.5,1071.6 L848.5,1070.7 L849.6,1069.9 L850.7,1069.0 L851.8,1068.1 L852.8,1067.1 L853.9,1066.2 L855.0,1065.1 L856.1,1064.1 L857.2,1063.0 L858.3,1061.8 L859.4,1060.6 L860.5,1059.4 L861.6,1058.1 L862.2,1057.4 L862.7,1056.7 L863.3,1056.0 L863.9,1055.3 L864.4,1054.6 L865.0,1053.9 L865.6,1053.2 L866.2,1052.4 L866.7,1051.6 L867.3,1050.9 L867.9,1050.1 L868.5,1049.3 L869.0,1048.4 L869.6,1047.6 L870.2,1046.7 L870.8,1045.9 L871.4,1045.0 L872.0,1044.1 L872.6,1043.1 L873.2,1042.2 L873.8,1041.2 L874.4,1040.3 L875.0,1039.3 L875.6,1038.3 L876.2,1037.2 L876.9,1036.2 L877.5,1035.1 L878.1,1034.0 L878.7,1032.9 L879.4,1031.8 L880.0,1030.7 L880.6,1029.5 L881.3,1028.3 L881.9,1027.1 L882.6,1025.9 L883.2,1024.6 L883.9,1023.4 L884.5,1022.1 L885.2,1020.8 L885.8,1019.4 L886.5,1018.1 L887.2,1016.7 L887.8,1015.3 L888.5,1013.9 L889.2,1012.4 L889.9,1010.9 L890.6,1009.4 L891.3,1007.9 L892.0,1006.3 L892.7,1004.8 L893.4,1003.1 L894.1,1001.5 L894.8,999.8 L895.5,998.2 L896.3,996.4 L897.0,994.7 L897.7,992.9 L898.5,991.1 L899.2,989.3 L899.9,987.4 L900.7,985.5 L901.5,983.6 L902.2,981.7 L903.0,979.7 L903.8,977.7 L904.5,975.6 L905.3,973.5 L906.1,971.4 L906.9,969.3 L907.7,967.1 L908.5,964.9 L909.3,962.7 L910.1,960.4 L910.9,958.1 L911.8,955.8 L912.6,953.4 L913.4,951.0 L914.3,948.5 L915.1,946.0 L916.0,943.5 L916.8,941.0 L917.7,938.4 L918.6,935.8 L919.4,933.1 L920.3,930.4 L921.2,927.7 L922.1,924.9 L923.0,922.1 L923.9,919.3 L924.8,916.4 L925.7,913.5 L926.7,910.5 L927.6,907.5 L928.5,904.5 L929.5,901.4 L930.4,898.3 L931.4,895.1 L932.4,891.9 L933.3,888.7 L934.3,885.4 L935.3,882.1 L936.3,878.8 L937.3,875.4 L938.3,872.0 L939.3,868.5 L940.3,865.0 L941.4,861.5 L942.4,857.9 L943.4,854.3 L944.5,850.7 L945.6,847.0 L946.6,843.2 L947.7,839.5 L948.8,835.7 L949.9,831.8 L951.0,828.0 L952.1,824.0 L953.2,820.1 L954.3,816.1 L955.4,812.1 L956.5,808.0 L957.7,803.9 L958.8,799.8 L960.0,795.6 L961.1,791.4 L962.3,787.2 L963.4,782.9 L964.6,778.6 L965.8,774.3 L966.9,769.9 L968.1,765.5 L969.3,761.1 L970.5,756.6 L971.6,752.1 L972.8,747.6 L974.0,743.1 L975.2,738.5 L976.4,733.9 L977.6,729.3 L978.8,724.6 L980.0,720.0 L981.2,715.3 L982.4,710.5 L983.6,705.8 L984.8,701.0 L986.0,696.2 L987.2,691.4 L988.3,686.6 L989.5,681.7 L990.7,676.9 L991.9,672.0 L993.1,667.1 L994.3,662.1 L995.5,657.2 L996.6,652.3 L997.8,647.3 L999.0,642.4 L1000.2,637.4 L1001.3,632.4 L1002.5,627.4 L1003.6,622.4 L1004.8,617.4 L1005.9,612.4 L1007.1,607.3 L1008.2,602.3 L1009.3,597.3 L1010.5,592.3 L1011.6,587.2 L1012.7,582.2 L1013.8,577.2 L1014.9,572.2 L1016.0,567.1 L1017.0,562.1 L1018.1,557.1 L1019.2,552.1 L1020.2,547.1 L1021.3,542.1 L1022.3,537.1 L1023.4,532.2 L1024.4,527.2 L1025.4,522.3 L1026.4,517.4 L1027.4,512.4 L1028.3,507.5 L1029.3,502.6 L1030.3,497.8 L1031.2,492.9 L1032.2,488.1 L1033.1,483.3 L1034.0,478.5 L1034.9,473.7 L1035.8,469.0 L1036.7,464.2 L1037.6,459.5 L1038.5,454.9 L1039.4,450.2 L1040.2,445.6 L1041.1,441.0 L1041.9,436.4 L1042.8,431.9 L1043.6,427.4 L1044.5,422.9 L1045.3,418.4 L1046.1,414.0 L1046.9,409.6 L1047.8,405.2 L1048.6,400.9 L1049.4,396.6 L1050.2,392.3 L1051.0,388.1 L1051.8,383.9 L1052.6,379.7 L1053.4,375.6 L1054.2,371.5 L1055.0,367.4 L1055.8,363.4 L1056.6,359.4 L1057.4,355.5 L1058.2,351.5 L1059.0,347.7 L1059.8,343.8 L1060.6,340.0 L1061.4,336.3 L1062.2,332.5 L1063.0,328.8 L1063.8,325.2 L1064.6,321.6 L1065.4,318.0 L1066.2,314.5 L1067.0,311.0 L1067.8,307.5 L1068.6,304.1 L1069.4,300.7 L1070.2,297.4 L1071.0,294.1 L1071.8,290.8 L1072.6,287.6 L1073.5,284.4 L1074.3,281.2 L1075.1,278.1 L1075.9,275.0 L1076.7,272.0 L1077.5,269.0 L1078.3,266.0 L1079.2,263.1 L1080.0,260.2 L1080.8,257.4 L1081.6,254.6 L1082.4,251.8 L1083.2,249.1 L1084.1,246.4 L1084.9,243.7 L1085.7,241.1 L1086.5,238.5 L1087.3,236.0 L1088.2,233.5 L1089.0,231.0 L1089.8,228.5 L1090.6,226.1 L1091.4,223.7 L1092.2,221.4 L1093.1,219.1 L1093.9,216.8 L1094.7,214.6 L1095.5,212.4 L1096.3,210.2 L1097.1,208.1 L1097.9,206.0 L1098.8,203.9 L1099.6,201.8 L1100.4,199.8 L1101.2,197.8 L1102.0,195.9 L1102.8,194.0 L1103.6,192.1 L1104.4,190.2 L1105.2,188.4 L1106.0,186.6 L1106.9,184.8 L1107.7,183.1 L1108.5,181.3 L1109.3,179.7 L1110.1,178.0 L1110.9,176.4 L1111.7,174.7 L1112.5,173.2 L1113.3,171.6 L1114.1,170.1 L1114.9,168.6 L1115.7,167.1 L1116.4,165.6 L1117.2,164.2 L1118.0,162.8 L1118.8,161.4 L1119.6,160.1 L1120.4,158.7 L1121.2,157.4 L1122.0,156.1 L1122.8,154.9 L1123.5,153.6 L1124.3,152.4 L1125.1,151.2 L1125.9,150.0 L1126.7,148.8 L1127.4,147.7 L1128.2,146.6 L1129.0,145.5 L1129.8,144.4 L1130.5,143.3 L1131.3,142.3 L1132.1,141.2 L1132.8,140.2 L1133.6,139.2 L1134.4,138.3 L1135.1,137.3 L1135.9,136.4 L1136.6,135.4 L1137.4,134.5 L1138.2,133.6 L1138.9,132.8 L1139.7,131.9 L1140.4,131.1 L1141.2,130.2 L1141.9,129.4 L1142.7,128.6 L1143.4,127.9 L1144.1,127.1 L1144.9,126.3 L1145.6,125.6 L1146.4,124.9 L1147.1,124.2 L1147.8,123.5 L1148.6,122.8 L1149.3,122.1 L1150.0,121.4 L1150.7,120.8 L1151.5,120.1 L1152.2,119.5 L1152.9,118.9 L1153.6,118.3 L1154.3,117.7 L1155.0,117.1 L1155.8,116.5 L1156.5,116.0 L1157.2,115.4 L1157.9,114.9 L1158.6,114.4 L1159.3,113.9 L1160.0,113.3 L1161.4,112.4 L1162.8,111.4 L1164.1,110.5 L1165.5,109.6 L1166.8,108.8 L1168.2,107.9 L1169.5,107.2 L1170.8,106.4 L1172.2,105.7 L1173.5,105.0 L1174.8,104.3 L1176.0,103.6 L1177.3,103.0 L1178.6,102.4 L1179.8,101.8 L1181.1,101.3 L1182.3,100.8 L1183.5,100.2 L1184.7,99.7 L1185.9,99.3 L1187.1,98.8 L1188.2,98.4 L1189.4,98.0 L1190.5,97.5 L1191.7,97.2 L1192.8,96.8 L1193.9,96.4 L1195.0,96.1 L1196.1,95.7 L1197.1,95.4 L1198.2,95.1 L1199.2,94.8 L1200.2,94.5 L1201.3,94.3 L1202.3,94.0 L1203.2,93.7 L1204.2,93.5 L1205.6,93.1 L1207.0,92.8 L1208.4,92.5 L1209.7,92.2 L1211.0,91.9 L1212.2,91.7 L1213.5,91.4 L1214.7,91.2 L1216.0,91.0 L1217.2,90.8 L1218.5,90.6 L1219.7,90.4 L1221.0,90.3 L1222.2,90.1 L1223.5,89.9 L1224.7,89.8 L1226.0,89.7 L1227.2,89.5 L1228.5,89.4 L1229.8,89.3 L1231.0,89.2 L1232.3,89.1 L1233.5,89.0 L1234.8,88.9 L1236.0,88.8 L1237.3,88.8 L1238.5,88.7 L1239.8,88.6 L1241.0,88.6 L1242.3,88.5 L1243.5,88.4 L1244.8,88.4 L1246.0,88.3 L1247.3,88.3 L1248.5,88.2 L1249.8,88.2 L1251.0,88.2 L1252.3,88.1 L1253.5,88.1 L1254.8,88.0 L1256.0,88.0 L1257.3,88.0 L1258.5,88.0 L1259.8,87.9 L1261.0,87.9 L1262.3,87.9 L1263.5,87.9 L1264.8,87.8 L1266.0,87.8 L1267.3,87.8 L1268.5,87.8 L1269.8,87.8 L1271.0,87.7 L1272.3,87.7 L1273.5,87.7 L1274.8,87.7 L1276.0,87.7 L1277.3,87.7 L1278.5,87.7 L1279.8,87.7 L1281.0,87.7 L1282.3,87.6 L1283.5,87.6 L1284.8,87.6 L2111.0,87.5" stroke="#7e7e7e" stroke-width="2.4"/>
<path d="M394.0,1092.0 L620.6,1091.9 L622.0,1091.9 L623.4,1091.9 L624.8,1091.9 L626.2,1091.9 L627.6,1091.8 L629.0,1091.8 L630.4,1091.8 L631.9,1091.8 L633.3,1091.8 L634.7,1091.8 L636.1,1091.8 L637.5,1091.8 L638.9,1091.8 L640.3,1091.8 L641.7,1091.8 L643.2,1091.8 L644.6,1091.8 L646.0,1091.7 L647.4,1091.7 L648.8,1091.7 L650.2,1091.7 L651.6,1091.7 L653.1,1091.7 L654.5,1091.7 L655.9,1091.7 L657.3,1091.6 L658.7,1091.6 L660.1,1091.6 L661.5,1091.6 L662.9,1091.6 L664.4,1091.6 L665.8,1091.6 L667.2,1091.5 L668.6,1091.5 L670.0,1091.5 L671.4,1091.5 L672.8,1091.5 L674.2,1091.4 L675.7,1091.4 L677.1,1091.4 L678.5,1091.4 L679.9,1091.3 L681.3,1091.3 L682.7,1091.3 L684.1,1091.2 L685.5,1091.2 L687.0,1091.2 L688.4,1091.2 L689.8,1091.1 L691.2,1091.1 L692.6,1091.0 L694.0,1091.0 L695.4,1091.0 L696.9,1090.9 L698.3,1090.9 L699.7,1090.8 L701.1,1090.8 L702.5,1090.7 L703.9,1090.7 L705.3,1090.6 L706.7,1090.6 L708.2,1090.5 L709.6,1090.5 L711.0,1090.4 L712.4,1090.3 L713.8,1090.3 L715.2,1090.2 L716.6,1090.1 L718.0,1090.0 L719.5,1090.0 L720.9,1089.9 L722.3,1089.8 L723.7,1089.7 L725.1,1089.6 L726.5,1089.5 L727.9,1089.4 L729.3,1089.3 L730.8,1089.2 L732.2,1089.1 L733.6,1089.0 L735.0,1088.8 L736.4,1088.7 L737.8,1088.6 L739.2,1088.4 L740.6,1088.3 L742.0,1088.1 L743.4,1088.0 L744.7,1087.8 L746.0,1087.6 L747.3,1087.5 L748.6,1087.3 L749.8,1087.1 L751.1,1086.9 L752.3,1086.7 L753.5,1086.5 L754.7,1086.2 L755.9,1086.0 L757.1,1085.8 L758.2,1085.5 L759.4,1085.2 L760.5,1085.0 L761.6,1084.7 L762.7,1084.4 L763.8,1084.1 L764.9,1083.8 L765.9,1083.4 L767.0,1083.1 L768.0,1082.7 L769.1,1082.3 L770.1,1082.0 L771.1,1081.5 L772.1,1081.1 L773.1,1080.7 L774.1,1080.2 L775.1,1079.8 L776.1,1079.3 L777.1,1078.7 L778.0,1078.2 L779.0,1077.7 L779.9,1077.1 L780.9,1076.5 L781.9,1075.9 L782.8,1075.2 L783.8,1074.5 L784.7,1073.8 L785.6,1073.1 L786.6,1072.3 L787.5,1071.6 L788.5,1070.7 L789.4,1069.9 L790.3,1069.0 L791.3,1068.1 L792.2,1067.1 L793.2,1066.2 L794.1,1065.1 L795.1,1064.1 L796.0,1063.0 L797.0,1061.8 L797.9,1060.6 L798.9,1059.4 L799.9,1058.1 L800.8,1056.7 L801.8,1055.3 L802.3,1054.6 L802.8,1053.9 L803.3,1053.2 L803.8,1052.4 L804.3,1051.6 L804.8,1050.9 L805.3,1050.1 L805.8,1049.3 L806.3,1048.4 L806.8,1047.6 L807.3,1046.7 L807.8,1045.9 L808.4,1045.0 L808.9,1044.1 L809.4,1043.1 L809.9,1042.2 L810.5,1041.2 L811.0,1040.3 L811.5,1039.3 L812.0,1038.3 L812.6,1037.2 L813.1,1036.2 L813.7,1035.1 L814.2,1034.0 L814.8,1032.9 L815.3,1031.8 L815.9,1030.7 L816.4,1029.5 L817.0,1028.3 L817.5,1027.1 L818.1,1025.9 L818.7,1024.6 L819.3,1023.4 L819.8,1022.1 L820.4,1020.8 L821.0,1019.4 L821.6,1018.1 L822.2,1016.7 L822.8,1015.3 L823.4,1013.9 L824.0,1012.4 L824.6,1010.9 L825.2,1009.4 L825.8,1007.9 L826.4,1006.3 L827.1,1004.8 L827.7,1003.1 L828.3,1001.5 L829.0,999.8 L829.6,998.2 L830.2,996.4 L830.9,994.7 L831.5,992.9 L832.2,991.1 L832.9,989.3 L833.5,987.4 L834.2,985.5 L834.9,983.6 L835.6,981.7 L836.3,979.7 L836.9,977.7 L837.6,975.6 L838.3,973.5 L839.1,971.4 L839.8,969.3 L840.5,967.1 L841.2,964.9 L841.9,962.7 L842.7,960.4 L843.4,958.1 L844.2,955.8 L844.9,953.4 L845.7,951.0 L846.4,948.5 L847.2,946.0 L848.0,943.5 L848.8,941.0 L849.6,938.4 L850.3,935.8 L851.1,933.1 L852.0,930.4 L852.8,927.7 L853.6,924.9 L854.4,922.1 L855.3,919.3 L856.1,916.4 L857.0,913.5 L857.8,910.5 L858.7,907.5 L859.6,904.5 L860.4,901.4 L861.3,898.3 L862.2,895.1 L863.2,891.9 L864.1,888.7 L865.0,885.4 L865.9,882.1 L866.9,878.8 L867.9,875.4 L868.8,872.0 L869.8,868.5 L870.8,865.0 L871.8,861.5 L872.8,857.9 L873.8,854.3 L874.9,850.7 L875.9,847.0 L877.0,843.2 L878.1,839.5 L879.2,835.7 L880.2,831.8 L881.4,828.0 L882.5,824.0 L883.6,820.1 L884.8,816.1 L885.9,812.1 L887.1,808.0 L888.3,803.9 L889.5,799.8 L890.7,795.6 L891.9,791.4 L893.2,787.2 L894.5,782.9 L895.7,778.6 L897.0,774.3 L898.3,769.9 L899.6,765.5 L901.0,761.1 L902.3,756.6 L903.7,752.1 L905.1,747.6 L906.5,743.1 L907.9,738.5 L909.3,733.9 L910.8,729.3 L912.3,724.6 L913.7,720.0 L915.2,715.3 L916.8,710.5 L918.3,705.8 L919.8,701.0 L921.4,696.2 L923.0,691.4 L924.6,686.6 L926.2,681.7 L927.8,676.9 L929.5,672.0 L931.1,667.1 L932.8,662.1 L934.5,657.2 L936.2,652.3 L937.9,647.3 L939.6,642.4 L941.3,637.4 L943.0,632.4 L944.8,627.4 L946.5,622.4 L948.3,617.4 L950.1,612.4 L951.9,607.3 L953.7,602.3 L955.5,597.3 L957.3,592.3 L959.1,587.2 L961.0,582.2 L962.8,577.2 L964.6,572.2 L966.5,567.1 L968.3,562.1 L970.2,557.1 L972.1,552.1 L974.0,547.1 L975.8,542.1 L977.7,537.1 L979.6,532.2 L981.5,527.2 L983.4,522.3 L985.3,517.4 L987.2,512.4 L989.1,507.5 L991.0,502.6 L992.9,497.8 L994.8,492.9 L996.8,488.1 L998.7,483.3 L1000.6,478.5 L1002.5,473.7 L1004.4,469.0 L1006.3,464.2 L1008.3,459.5 L1010.2,454.9 L1012.1,450.2 L1014.0,445.6 L1016.0,441.0 L1017.9,436.4 L1019.8,431.9 L1021.7,427.4 L1023.6,422.9 L1025.6,418.4 L1027.5,414.0 L1029.4,409.6 L1031.3,405.2 L1033.2,400.9 L1035.1,396.6 L1037.0,392.3 L1038.9,388.1 L1040.8,383.9 L1042.7,379.7 L1044.6,375.6 L1046.5,371.5 L1048.4,367.4 L1050.2,363.4 L1052.1,359.4 L1054.0,355.5 L1055.9,351.5 L1057.7,347.7 L1059.6,343.8 L1061.4,340.0 L1063.3,336.3 L1065.2,332.5 L1067.0,328.8 L1068.8,325.2 L1070.7,321.6 L1072.5,318.0 L1074.4,314.5 L1076.2,311.0 L1078.1,307.5 L1079.9,304.1 L1081.7,300.7 L1083.6,297.4 L1085.4,294.1 L1087.2,290.8 L1089.0,287.6 L1090.9,284.4 L1092.7,281.2 L1094.5,278.1 L1096.3,275.0 L1098.2,272.0 L1100.0,269.0 L1101.8,266.0 L1103.6,263.1 L1105.4,260.2 L1107.2,257.4 L1109.0,254.6 L1110.8,251.8 L1112.5,249.1 L1114.3,246.4 L1116.1,243.7 L1117.8,241.1 L1119.6,238.5 L1121.3,236.0 L1123.0,233.5 L1124.8,231.0 L1126.5,228.5 L1128.2,226.1 L1129.9,223.7 L1131.6,221.4 L1133.2,219.1 L1134.9,216.8 L1136.5,214.6 L1138.2,212.4 L1139.8,210.2 L1141.4,208.1 L1143.0,206.0 L1144.5,203.9 L1146.1,201.8 L1147.7,199.8 L1149.2,197.8 L1150.7,195.9 L1152.2,194.0 L1153.7,192.1 L1155.2,190.2 L1156.6,188.4 L1158.0,186.6 L1159.5,184.8 L1160.9,183.1 L1162.2,181.3 L1163.6,179.7 L1165.0,178.0 L1166.3,176.4 L1167.6,174.7 L1169.0,173.2 L1170.3,171.6 L1171.5,170.1 L1172.8,168.6 L1174.1,167.1 L1175.3,165.6 L1176.6,164.2 L1177.8,162.8 L1179.0,161.4 L1180.2,160.1 L1181.4,158.7 L1182.6,157.4 L1183.8,156.1 L1184.9,154.9 L1186.1,153.6 L1187.2,152.4 L1188.4,151.2 L1189.5,150.0 L1190.6,148.8 L1191.7,147.7 L1192.8,146.6 L1193.9,145.5 L1195.0,144.4 L1196.1,143.3 L1197.1,142.3 L1198.2,141.2 L1199.3,140.2 L1200.3,139.2 L1201.4,138.3 L1202.4,137.3 L1203.5,136.4 L1204.5,135.4 L1205.5,134.5 L1206.5,133.6 L1207.6,132.8 L1208.6,131.9 L1209.6,131.1 L1210.6,130.2 L1211.6,129.4 L1212.6,128.6 L1213.7,127.9 L1214.7,127.1 L1215.7,126.3 L1216.7,125.6 L1217.7,124.9 L1218.7,124.2 L1219.7,123.5 L1220.7,122.8 L1221.7,122.1 L1222.7,121.4 L1223.7,120.8 L1224.7,120.1 L1225.7,119.5 L1226.7,118.9 L1227.8,118.3 L1228.8,117.7 L1229.8,117.1 L1230.8,116.5 L1231.9,116.0 L1232.9,115.4 L1233.9,114.9 L1234.9,114.4 L1236.0,113.9 L1237.0,113.3 L1238.1,112.8 L1239.1,112.4 L1240.2,111.9 L1241.2,111.4 L1242.3,110.9 L1243.3,110.5 L1244.4,110.0 L1245.4,109.6 L1246.5,109.2 L1247.6,108.8 L1248.6,108.3 L1249.7,107.9 L1250.8,107.5 L1251.8,107.2 L1252.9,106.8 L1254.0,106.4 L1255.1,106.0 L1256.1,105.7 L1257.2,105.3 L1258.3,105.0 L1259.4,104.6 L1260.4,104.3 L1261.5,104.0 L1262.6,103.6 L1263.7,103.3 L1264.8,103.0 L1265.9,102.7 L1266.9,102.4 L1268.0,102.1 L1269.1,101.8 L1270.2,101.6 L1271.3,101.3 L1272.4,101.0 L1273.5,100.8 L1274.6,100.5 L1275.6,100.2 L1276.7,100.0 L1277.8,99.7 L1278.9,99.5 L1280.0,99.3 L1281.1,99.0 L1282.2,98.8 L1283.3,98.6 L1284.4,98.4 L1285.4,98.2 L1286.5,98.0 L1287.6,97.7 L1288.7,97.5 L1289.8,97.3 L1290.9,97.2 L1291.9,97.0 L1293.0,96.8 L1294.1,96.6 L1295.2,96.4 L1296.3,96.2 L1297.3,96.1 L1298.4,95.9 L1299.5,95.7 L1300.6,95.6 L1301.6,95.4 L1302.7,95.3 L1303.8,95.1 L1304.8,95.0 L1305.9,94.8 L1307.0,94.7 L1308.0,94.5 L1310.2,94.3 L1312.3,94.0 L1314.4,93.7 L1316.4,93.5 L1318.5,93.3 L1320.6,93.0 L1322.7,92.8 L1324.7,92.6 L1326.7,92.4 L1328.8,92.2 L1330.8,92.0 L1332.8,91.9 L1334.7,91.7 L1336.7,91.5 L1338.7,91.4 L1340.7,91.2 L1342.7,91.1 L1344.6,90.9 L1346.6,90.8 L1348.6,90.7 L1350.6,90.5 L1352.6,90.4 L1354.6,90.3 L1356.5,90.2 L1358.5,90.1 L1360.5,90.0 L1362.5,89.9 L1364.5,89.8 L1366.4,89.7 L1368.4,89.6 L1370.4,89.5 L1372.4,89.5 L1374.4,89.4 L1376.4,89.3 L1378.3,89.2 L1380.3,89.2 L1382.3,89.1 L1384.3,89.0 L1386.3,89.0 L1388.2,88.9 L1390.2,88.9 L1392.2,88.8 L1394.2,88.8 L1396.2,88.7 L1398.2,88.7 L1400.1,88.6 L1402.1,88.6 L1404.1,88.5 L1406.1,88.5 L1408.1,88.5 L1410.0,88.4 L1412.0,88.4 L1414.0,88.3 L1416.0,88.3 L1418.0,88.3 L1420.0,88.3 L1421.9,88.2 L1423.9,88.2 L1425.9,88.2 L1427.9,88.1 L1429.9,88.1 L1431.8,88.1 L1433.8,88.1 L1435.8,88.0 L1437.8,88.0 L1439.8,88.0 L1441.8,88.0 L1443.7,88.0 L1445.7,87.9 L1447.7,87.9 L1449.7,87.9 L1451.7,87.9 L1453.6,87.9 L1455.6,87.9 L1457.6,87.9 L1459.6,87.8 L1461.6,87.8 L1463.6,87.8 L1465.5,87.8 L1467.5,87.8 L1469.5,87.8 L1471.5,87.8 L1473.5,87.8 L1475.4,87.7 L1477.4,87.7 L1479.4,87.7 L1481.4,87.7 L1483.4,87.7 L1485.4,87.7 L1487.3,87.7 L1489.3,87.7 L1491.3,87.7 L1493.3,87.7 L1495.3,87.7 L1497.2,87.7 L1499.2,87.7 L1501.2,87.6 L1503.2,87.6 L1505.2,87.6 L1507.2,87.6 L1509.1,87.6 L2111.0,87.5" stroke="#7a7a7a" stroke-width="2.4"/>
<path d="M394.0,1092.0 L585.1,1091.9 L586.7,1091.9 L588.4,1091.9 L590.0,1091.9 L591.7,1091.8 L593.3,1091.8 L595.0,1091.8 L596.6,1091.8 L598.3,1091.8 L599.9,1091.8 L601.6,1091.8 L603.2,1091.8 L604.9,1091.7 L606.5,1091.7 L608.2,1091.7 L609.8,1091.7 L611.5,1091.7 L613.1,1091.7 L614.8,1091.6 L616.4,1091.6 L618.1,1091.6 L619.7,1091.6 L621.4,1091.5 L623.0,1091.5 L624.7,1091.5 L626.3,1091.4 L628.0,1091.4 L629.6,1091.4 L631.3,1091.3 L632.9,1091.3 L634.6,1091.2 L636.2,1091.2 L637.9,1091.2 L639.5,1091.1 L641.2,1091.0 L642.8,1091.0 L644.5,1090.9 L646.1,1090.9 L647.8,1090.8 L649.4,1090.7 L651.1,1090.6 L652.7,1090.5 L654.4,1090.5 L656.0,1090.4 L657.7,1090.3 L659.3,1090.2 L661.0,1090.0 L662.6,1089.9 L664.3,1089.8 L665.9,1089.7 L667.6,1089.5 L668.7,1089.4 L669.8,1089.3 L670.9,1089.2 L672.0,1089.1 L673.1,1089.0 L674.2,1088.8 L675.3,1088.7 L676.4,1088.6 L677.5,1088.4 L678.6,1088.3 L679.7,1088.1 L680.8,1088.0 L681.9,1087.8 L683.0,1087.6 L684.1,1087.5 L685.2,1087.3 L686.4,1087.1 L687.5,1086.9 L688.7,1086.7 L689.8,1086.5 L691.0,1086.2 L692.2,1086.0 L693.4,1085.8 L694.6,1085.5 L695.8,1085.2 L697.0,1085.0 L698.2,1084.7 L699.5,1084.4 L700.7,1084.1 L702.0,1083.8 L703.2,1083.4 L704.5,1083.1 L705.7,1082.7 L707.0,1082.3 L708.3,1082.0 L709.6,1081.5 L710.9,1081.1 L712.2,1080.7 L713.6,1080.2 L714.9,1079.8 L716.2,1079.3 L717.6,1078.7 L718.9,1078.2 L720.3,1077.7 L721.6,1077.1 L723.0,1076.5 L724.4,1075.9 L725.8,1075.2 L727.2,1074.5 L728.6,1073.8 L730.0,1073.1 L731.4,1072.3 L732.8,1071.6 L734.3,1070.7 L735.7,1069.9 L737.1,1069.0 L738.6,1068.1 L739.3,1067.6 L740.1,1067.1 L740.8,1066.7 L741.5,1066.2 L742.3,1065.6 L743.0,1065.1 L743.7,1064.6 L744.5,1064.1 L745.2,1063.5 L746.0,1063.0 L746.7,1062.4 L747.5,1061.8 L748.2,1061.2 L749.0,1060.6 L749.7,1060.0 L750.5,1059.4 L751.2,1058.7 L752.0,1058.1 L752.7,1057.4 L753.5,1056.7 L754.3,1056.0 L755.0,1055.3 L755.8,1054.6 L756.6,1053.9 L757.3,1053.2 L758.1,1052.4 L758.9,1051.6 L759.6,1050.9 L760.4,1050.1 L761.2,1049.3 L762.0,1048.4 L762.8,1047.6 L763.5,1046.7 L764.3,1045.9 L765.1,1045.0 L765.9,1044.1 L766.7,1043.1 L767.5,1042.2 L768.3,1041.2 L769.1,1040.3 L769.9,1039.3 L770.6,1038.3 L771.4,1037.2 L772.2,1036.2 L773.0,1035.1 L773.8,1034.0 L774.6,1032.9 L775.5,1031.8 L776.3,1030.7 L777.1,1029.5 L777.9,1028.3 L778.7,1027.1 L779.5,1025.9 L780.3,1024.6 L781.1,1023.4 L781.9,1022.1 L782.8,1020.8 L783.6,1019.4 L784.4,1018.1 L785.2,1016.7 L786.1,1015.3 L786.9,1013.9 L787.7,1012.4 L788.5,1010.9 L789.4,1009.4 L790.2,1007.9 L791.0,1006.3 L791.9,1004.8 L792.7,1003.1 L793.5,1001.5 L794.4,999.8 L795.2,998.2 L796.1,996.4 L796.9,994.7 L797.7,992.9 L798.6,991.1 L799.4,989.3 L800.3,987.4 L801.1,985.5 L802.0,983.6 L802.8,981.7 L803.7,979.7 L804.5,977.7 L805.4,975.6 L806.3,973.5 L807.1,971.4 L808.0,969.3 L808.8,967.1 L809.7,964.9 L810.6,962.7 L811.4,960.4 L812.3,958.1 L813.2,955.8 L814.0,953.4 L814.9,951.0 L815.8,948.5 L816.6,946.0 L817.5,943.5 L818.4,941.0 L819.3,938.4 L820.1,935.8 L821.0,933.1 L821.9,930.4 L822.8,927.7 L823.6,924.9 L824.5,922.1 L825.4,919.3 L826.3,916.4 L827.2,913.5 L828.1,910.5 L829.0,907.5 L829.8,904.5 L830.7,901.4 L831.6,898.3 L832.5,895.1 L833.4,891.9 L834.3,888.7 L835.2,885.4 L836.1,882.1 L837.0,878.8 L837.9,875.4 L838.8,872.0 L839.7,868.5 L840.6,865.0 L841.5,861.5 L842.4,857.9 L843.3,854.3 L844.2,850.7 L845.1,847.0 L846.0,843.2 L846.9,839.5 L847.8,835.7 L848.7,831.8 L849.7,828.0 L850.6,824.0 L851.5,820.1 L852.4,816.1 L853.3,812.1 L854.2,808.0 L855.1,803.9 L856.1,799.8 L857.0,795.6 L857.9,791.4 L858.8,787.2 L859.7,782.9 L860.7,778.6 L861.6,774.3 L862.5,769.9 L863.4,765.5 L864.3,761.1 L865.3,756.6 L866.2,752.1 L867.1,747.6 L868.1,743.1 L869.0,738.5 L869.9,733.9 L870.8,729.3 L871.8,724.6 L872.7,720.0 L873.6,715.3 L874.6,710.5 L875.5,705.8 L876.4,701.0 L877.4,696.2 L878.3,691.4 L879.2,686.6 L880.2,681.7 L881.1,676.9 L882.1,672.0 L883.0,667.1 L883.9,662.1 L884.9,657.2 L885.8,652.3 L886.8,647.3 L887.7,642.4 L888.6,637.4 L889.6,632.4 L890.5,627.4 L891.5,622.4 L892.4,617.4 L893.4,612.4 L894.3,607.3 L895.2,602.3 L896.2,597.3 L897.1,592.3 L898.1,587.2 L899.0,582.2 L900.0,577.2 L900.9,572.2 L901.9,567.1 L902.8,562.1 L903.8,557.1 L904.7,552.1 L905.6,547.1 L906.6,542.1 L907.5,537.1 L908.5,532.2 L909.4,527.2 L910.4,522.3 L911.3,517.4 L912.3,512.4 L913.2,507.5 L914.2,502.6 L915.1,497.8 L916.0,492.9 L917.0,488.1 L917.9,483.3 L918.9,478.5 L919.8,473.7 L920.8,469.0 L921.7,464.2 L922.6,459.5 L923.6,454.9 L924.5,450.2 L925.5,445.6 L926.4,441.0 L927.4,436.4 L928.3,431.9 L929.2,427.4 L930.2,422.9 L931.1,418.4 L932.1,414.0 L933.0,409.6 L933.9,405.2 L934.9,400.9 L935.8,396.6 L936.7,392.3 L937.7,388.1 L938.6,383.9 L939.5,379.7 L940.5,375.6 L941.4,371.5 L942.3,367.4 L943.3,363.4 L944.2,359.4 L945.1,355.5 L946.0,351.5 L947.0,347.7 L947.9,343.8 L948.8,340.0 L949.7,336.3 L950.7,332.5 L951.6,328.8 L952.5,325.2 L953.4,321.6 L954.3,318.0 L955.3,314.5 L956.2,311.0 L957.1,307.5 L958.0,304.1 L958.9,300.7 L959.8,297.4 L960.7,294.1 L961.6,290.8 L962.6,287.6 L963.5,284.4 L964.4,281.2 L965.3,278.1 L966.2,275.0 L967.1,272.0 L968.0,269.0 L968.9,266.0 L969.8,263.1 L970.7,260.2 L971.6,257.4 L972.4,254.6 L973.3,251.8 L974.2,249.1 L975.1,246.4 L976.0,243.7 L976.9,241.1 L977.8,238.5 L978.7,236.0 L979.5,233.5 L980.4,231.0 L981.3,228.5 L982.2,226.1 L983.0,223.7 L983.9,221.4 L984.8,219.1 L985.7,216.8 L986.5,214.6 L987.4,212.4 L988.3,210.2 L989.1,208.1 L990.0,206.0 L990.8,203.9 L991.7,201.8 L992.6,199.8 L993.4,197.8 L994.3,195.9 L995.1,194.0 L996.0,192.1 L996.8,190.2 L997.7,188.4 L998.5,186.6 L999.4,184.8 L1000.2,183.1 L1001.0,181.3 L1001.9,179.7 L1002.7,178.0 L1003.6,176.4 L1004.4,174.7 L1005.2,173.2 L1006.1,171.6 L1006.9,170.1 L1007.7,168.6 L1008.5,167.1 L1009.4,165.6 L1010.2,164.2 L1011.0,162.8 L1011.8,161.4 L1012.7,160.1 L1013.5,158.7 L1014.3,157.4 L1015.1,156.1 L1015.9,154.9 L1016.7,153.6 L1017.5,152.4 L1018.3,151.2 L1019.1,150.0 L1019.9,148.8 L1020.7,147.7 L1021.5,146.6 L1022.3,145.5 L1023.1,144.4 L1023.9,143.3 L1024.7,142.3 L1025.5,141.2 L1026.3,140.2 L1027.1,139.2 L1027.9,138.3 L1028.7,137.3 L1029.4,136.4 L1030.2,135.4 L1031.0,134.5 L1031.8,133.6 L1032.5,132.8 L1033.3,131.9 L1034.1,131.1 L1034.8,130.2 L1035.6,129.4 L1036.4,128.6 L1037.1,127.9 L1037.9,127.1 L1038.7,126.3 L1039.4,125.6 L1040.2,124.9 L1040.9,124.2 L1041.7,123.5 L1042.4,122.8 L1043.2,122.1 L1043.9,121.4 L1044.7,120.8 L1045.4,120.1 L1046.1,119.5 L1046.9,118.9 L1047.6,118.3 L1048.4,117.7 L1049.1,117.1 L1049.8,116.5 L1050.5,116.0 L1051.3,115.4 L1052.0,114.9 L1052.7,114.4 L1053.4,113.9 L1054.2,113.3 L1054.9,112.8 L1055.6,112.4 L1057.0,111.4 L1058.4,110.5 L1059.8,109.6 L1061.2,108.8 L1062.6,107.9 L1064.0,107.2 L1065.4,106.4 L1066.7,105.7 L1068.1,105.0 L1069.4,104.3 L1070.8,103.6 L1072.1,103.0 L1073.4,102.4 L1074.7,101.8 L1076.0,101.3 L1077.3,100.8 L1078.6,100.2 L1079.9,99.7 L1081.2,99.3 L1082.4,98.8 L1083.7,98.4 L1084.9,98.0 L1086.2,97.5 L1087.4,97.2 L1088.6,96.8 L1089.8,96.4 L1091.0,96.1 L1092.2,95.7 L1093.4,95.4 L1094.5,95.1 L1095.7,94.8 L1096.8,94.5 L1098.0,94.3 L1099.1,94.0 L1100.2,93.7 L1101.3,93.5 L1102.5,93.3 L1103.5,93.0 L1104.6,92.8 L1105.7,92.6 L1106.8,92.4 L1107.8,92.2 L1108.9,92.0 L1109.9,91.9 L1111.4,91.6 L1112.9,91.4 L1114.4,91.1 L1115.9,90.9 L1117.3,90.7 L1118.7,90.5 L1120.1,90.4 L1121.5,90.2 L1122.8,90.0 L1124.2,89.9 L1125.5,89.8 L1126.7,89.6 L1128.0,89.5 L1129.2,89.4 L1130.5,89.3 L1131.7,89.2 L1133.0,89.1 L1134.3,89.0 L1135.5,88.9 L1136.8,88.8 L1138.0,88.7 L1139.3,88.7 L1140.5,88.6 L1141.8,88.5 L1143.0,88.5 L1144.3,88.4 L1145.6,88.4 L1146.8,88.3 L1148.1,88.3 L1149.3,88.2 L1150.6,88.2 L1151.8,88.1 L1153.1,88.1 L1154.4,88.1 L1155.6,88.0 L1156.9,88.0 L1158.1,88.0 L1159.4,87.9 L1160.6,87.9 L1161.9,87.9 L1163.1,87.9 L1164.4,87.9 L1165.7,87.8 L1166.9,87.8 L1168.2,87.8 L1169.4,87.8 L1170.7,87.8 L1171.9,87.7 L1173.2,87.7 L1174.4,87.7 L1175.7,87.7 L1177.0,87.7 L1178.2,87.7 L1179.5,87.7 L1180.7,87.7 L1182.0,87.7 L1183.2,87.6 L1184.5,87.6 L1185.7,87.6 L2111.0,87.5" stroke="#2a2a2a" stroke-width="2.9"/>
<path d="M394.0,1092.0 L757.1,1091.9 L758.5,1091.9 L759.9,1091.9 L761.3,1091.9 L762.8,1091.8 L764.2,1091.8 L765.6,1091.8 L767.1,1091.8 L768.5,1091.8 L769.9,1091.8 L771.3,1091.8 L772.8,1091.8 L774.2,1091.7 L775.6,1091.7 L777.1,1091.7 L778.5,1091.7 L779.9,1091.7 L781.4,1091.7 L782.8,1091.6 L784.2,1091.6 L785.6,1091.6 L787.1,1091.6 L788.5,1091.5 L789.9,1091.5 L791.4,1091.5 L792.8,1091.4 L794.2,1091.4 L795.6,1091.4 L797.1,1091.3 L798.5,1091.3 L799.9,1091.2 L801.4,1091.2 L802.8,1091.2 L804.2,1091.1 L805.6,1091.0 L807.1,1091.0 L808.5,1090.9 L809.9,1090.9 L811.4,1090.8 L812.8,1090.7 L814.2,1090.6 L815.6,1090.5 L817.1,1090.5 L818.5,1090.4 L819.9,1090.3 L821.4,1090.2 L822.8,1090.0 L824.2,1089.9 L825.7,1089.8 L827.1,1089.7 L828.5,1089.5 L829.9,1089.4 L831.4,1089.2 L832.8,1089.0 L834.2,1088.8 L835.7,1088.6 L837.1,1088.4 L838.6,1088.2 L840.0,1088.0 L841.5,1087.7 L843.0,1087.5 L844.5,1087.2 L846.0,1086.9 L847.0,1086.7 L848.0,1086.5 L849.0,1086.2 L850.0,1086.0 L851.0,1085.8 L852.0,1085.5 L853.1,1085.2 L854.1,1085.0 L855.1,1084.7 L856.2,1084.4 L857.2,1084.1 L858.3,1083.8 L859.3,1083.4 L860.4,1083.1 L861.4,1082.7 L862.5,1082.3 L863.6,1082.0 L864.7,1081.5 L865.7,1081.1 L866.8,1080.7 L867.9,1080.2 L869.0,1079.8 L870.1,1079.3 L871.2,1078.7 L872.3,1078.2 L873.5,1077.7 L874.6,1077.1 L875.7,1076.5 L876.9,1075.9 L878.0,1075.2 L879.2,1074.5 L880.3,1073.8 L881.5,1073.1 L882.6,1072.3 L883.8,1071.6 L885.0,1070.7 L886.2,1069.9 L887.4,1069.0 L888.6,1068.1 L889.8,1067.1 L891.0,1066.2 L892.2,1065.1 L893.4,1064.1 L894.6,1063.0 L895.9,1061.8 L896.5,1061.2 L897.1,1060.6 L897.7,1060.0 L898.4,1059.4 L899.0,1058.7 L899.6,1058.1 L900.2,1057.4 L900.9,1056.7 L901.5,1056.0 L902.1,1055.3 L902.8,1054.6 L903.4,1053.9 L904.1,1053.2 L904.7,1052.4 L905.3,1051.6 L906.0,1050.9 L906.6,1050.1 L907.3,1049.3 L907.9,1048.4 L908.6,1047.6 L909.3,1046.7 L909.9,1045.9 L910.6,1045.0 L911.2,1044.1 L911.9,1043.1 L912.6,1042.2 L913.2,1041.2 L913.9,1040.3 L914.6,1039.3 L915.2,1038.3 L915.9,1037.2 L916.6,1036.2 L917.3,1035.1 L917.9,1034.0 L918.6,1032.9 L919.3,1031.8 L920.0,1030.7 L920.7,1029.5 L921.4,1028.3 L922.1,1027.1 L922.7,1025.9 L923.4,1024.6 L924.1,1023.4 L924.8,1022.1 L925.5,1020.8 L926.2,1019.4 L926.9,1018.1 L927.7,1016.7 L928.4,1015.3 L929.1,1013.9 L929.8,1012.4 L930.5,1010.9 L931.2,1009.4 L931.9,1007.9 L932.7,1006.3 L933.4,1004.8 L934.1,1003.1 L934.8,1001.5 L935.6,999.8 L936.3,998.2 L937.0,996.4 L937.8,994.7 L938.5,992.9 L939.3,991.1 L940.0,989.3 L940.7,987.4 L941.5,985.5 L942.2,983.6 L943.0,981.7 L943.7,979.7 L944.5,977.7 L945.3,975.6 L946.0,973.5 L946.8,971.4 L947.5,969.3 L948.3,967.1 L949.1,964.9 L949.9,962.7 L950.6,960.4 L951.4,958.1 L952.2,955.8 L953.0,953.4 L953.7,951.0 L954.5,948.5 L955.3,946.0 L956.1,943.5 L956.9,941.0 L957.7,938.4 L958.5,935.8 L959.3,933.1 L960.1,930.4 L960.9,927.7 L961.7,924.9 L962.5,922.1 L963.3,919.3 L964.1,916.4 L964.9,913.5 L965.8,910.5 L966.6,907.5 L967.4,904.5 L968.2,901.4 L969.1,898.3 L969.9,895.1 L970.7,891.9 L971.6,888.7 L972.4,885.4 L973.2,882.1 L974.1,878.8 L974.9,875.4 L975.8,872.0 L976.6,868.5 L977.5,865.0 L978.3,861.5 L979.2,857.9 L980.1,854.3 L980.9,850.7 L981.8,847.0 L982.6,843.2 L983.5,839.5 L984.4,835.7 L985.3,831.8 L986.1,828.0 L987.0,824.0 L987.9,820.1 L988.8,816.1 L989.7,812.1 L990.6,808.0 L991.5,803.9 L992.4,799.8 L993.3,795.6 L994.2,791.4 L995.1,787.2 L996.0,782.9 L996.9,778.6 L997.8,774.3 L998.7,769.9 L999.6,765.5 L1000.6,761.1 L1001.5,756.6 L1002.4,752.1 L1003.3,747.6 L1004.3,743.1 L1005.2,738.5 L1006.1,733.9 L1007.1,729.3 L1008.0,724.6 L1009.0,720.0 L1009.9,715.3 L1010.9,710.5 L1011.8,705.8 L1012.8,701.0 L1013.7,696.2 L1014.7,691.4 L1015.7,686.6 L1016.6,681.7 L1017.6,676.9 L1018.6,672.0 L1019.5,667.1 L1020.5,662.1 L1021.5,657.2 L1022.5,652.3 L1023.5,647.3 L1024.5,642.4 L1025.5,637.4 L1026.5,632.4 L1027.5,627.4 L1028.5,622.4 L1029.5,617.4 L1030.5,612.4 L1031.5,607.3 L1032.5,602.3 L1033.5,597.3 L1034.5,592.3 L1035.6,587.2 L1036.6,582.2 L1037.6,577.2 L1038.7,572.2 L1039.7,567.1 L1040.7,562.1 L1041.8,557.1 L1042.8,552.1 L1043.9,547.1 L1044.9,542.1 L1046.0,537.1 L1047.0,532.2 L1048.1,527.2 L1049.1,522.3 L1050.2,517.4 L1051.3,512.4 L1052.4,507.5 L1053.4,502.6 L1054.5,497.8 L1055.6,492.9 L1056.7,488.1 L1057.8,483.3 L1058.8,478.5 L1059.9,473.7 L1061.0,469.0 L1062.1,464.2 L1063.2,459.5 L1064.3,454.9 L1065.4,450.2 L1066.5,445.6 L1067.6,441.0 L1068.8,436.4 L1069.9,431.9 L1071.0,427.4 L1072.1,422.9 L1073.2,418.4 L1074.3,414.0 L1075.5,409.6 L1076.6,405.2 L1077.7,400.9 L1078.9,396.6 L1080.0,392.3 L1081.1,388.1 L1082.3,383.9 L1083.4,379.7 L1084.5,375.6 L1085.7,371.5 L1086.8,367.4 L1088.0,363.4 L1089.1,359.4 L1090.2,355.5 L1091.4,351.5 L1092.5,347.7 L1093.7,343.8 L1094.8,340.0 L1096.0,336.3 L1097.1,332.5 L1098.3,328.8 L1099.5,325.2 L1100.6,321.6 L1101.8,318.0 L1102.9,314.5 L1104.1,311.0 L1105.3,307.5 L1106.4,304.1 L1107.6,300.7 L1108.7,297.4 L1109.9,294.1 L1111.1,290.8 L1112.2,287.6 L1113.4,284.4 L1114.6,281.2 L1115.7,278.1 L1116.9,275.0 L1118.1,272.0 L1119.2,269.0 L1120.4,266.0 L1121.6,263.1 L1122.7,260.2 L1123.9,257.4 L1125.1,254.6 L1126.2,251.8 L1127.4,249.1 L1128.6,246.4 L1129.7,243.7 L1130.9,241.1 L1132.1,238.5 L1133.2,236.0 L1134.4,233.5 L1135.6,231.0 L1136.7,228.5 L1137.9,226.1 L1139.1,223.7 L1140.2,221.4 L1141.4,219.1 L1142.6,216.8 L1143.7,214.6 L1144.9,212.4 L1146.0,210.2 L1147.2,208.1 L1148.4,206.0 L1149.5,203.9 L1150.7,201.8 L1151.8,199.8 L1153.0,197.8 L1154.1,195.9 L1155.3,194.0 L1156.5,192.1 L1157.6,190.2 L1158.8,188.4 L1159.9,186.6 L1161.1,184.8 L1162.2,183.1 L1163.4,181.3 L1164.5,179.7 L1165.7,178.0 L1166.8,176.4 L1167.9,174.7 L1169.1,173.2 L1170.2,171.6 L1171.4,170.1 L1172.5,168.6 L1173.7,167.1 L1174.8,165.6 L1175.9,164.2 L1177.1,162.8 L1178.2,161.4 L1179.3,160.1 L1180.5,158.7 L1181.6,157.4 L1182.7,156.1 L1183.9,154.9 L1185.0,153.6 L1186.1,152.4 L1187.3,151.2 L1188.4,150.0 L1189.5,148.8 L1190.6,147.7 L1191.8,146.6 L1192.9,145.5 L1194.0,144.4 L1195.1,143.3 L1196.2,142.3 L1197.4,141.2 L1198.5,140.2 L1199.6,139.2 L1200.7,138.3 L1201.8,137.3 L1202.9,136.4 L1204.1,135.4 L1205.2,134.5 L1206.3,133.6 L1207.4,132.8 L1208.5,131.9 L1209.6,131.1 L1210.7,130.2 L1211.8,129.4 L1212.9,128.6 L1214.0,127.9 L1215.1,127.1 L1216.2,126.3 L1217.3,125.6 L1218.4,124.9 L1219.5,124.2 L1220.6,123.5 L1221.7,122.8 L1222.8,122.1 L1223.9,121.4 L1225.0,120.8 L1226.1,120.1 L1227.1,119.5 L1228.2,118.9 L1229.3,118.3 L1230.4,117.7 L1231.5,117.1 L1232.6,116.5 L1233.6,116.0 L1234.7,115.4 L1235.8,114.9 L1236.9,114.4 L1238.0,113.9 L1239.0,113.3 L1240.1,112.8 L1241.2,112.4 L1242.2,111.9 L1243.3,111.4 L1244.4,110.9 L1245.5,110.5 L1246.5,110.0 L1247.6,109.6 L1248.6,109.2 L1249.7,108.8 L1250.8,108.3 L1251.8,107.9 L1252.9,107.5 L1253.9,107.2 L1255.0,106.8 L1256.0,106.4 L1257.1,106.0 L1258.2,105.7 L1259.2,105.3 L1260.2,105.0 L1261.3,104.6 L1262.3,104.3 L1263.4,104.0 L1264.4,103.6 L1265.5,103.3 L1266.5,103.0 L1267.5,102.7 L1268.6,102.4 L1269.6,102.1 L1270.7,101.8 L1271.7,101.6 L1272.7,101.3 L1273.7,101.0 L1274.8,100.8 L1275.8,100.5 L1276.8,100.2 L1277.8,100.0 L1278.9,99.7 L1279.9,99.5 L1280.9,99.3 L1281.9,99.0 L1282.9,98.8 L1284.0,98.6 L1285.0,98.4 L1286.0,98.2 L1287.0,98.0 L1288.0,97.7 L1289.0,97.5 L1290.0,97.3 L1292.0,97.0 L1294.0,96.6 L1296.0,96.2 L1298.0,95.9 L1300.0,95.6 L1302.0,95.3 L1303.9,95.0 L1305.9,94.7 L1307.9,94.4 L1309.8,94.1 L1311.7,93.9 L1313.7,93.6 L1315.6,93.4 L1317.5,93.1 L1319.5,92.9 L1321.4,92.7 L1323.3,92.5 L1325.2,92.3 L1327.1,92.1 L1328.9,91.9 L1330.8,91.8 L1332.7,91.6 L1334.6,91.4 L1336.4,91.3 L1338.3,91.1 L1340.2,91.0 L1342.1,90.9 L1343.9,90.7 L1345.8,90.6 L1347.7,90.5 L1349.6,90.4 L1351.4,90.3 L1353.3,90.1 L1355.2,90.0 L1357.0,89.9 L1358.9,89.8 L1360.8,89.8 L1362.7,89.7 L1364.5,89.6 L1366.4,89.5 L1368.3,89.4 L1370.2,89.3 L1372.0,89.3 L1373.9,89.2 L1375.8,89.1 L1377.7,89.1 L1379.5,89.0 L1381.4,89.0 L1383.3,88.9 L1385.1,88.8 L1387.0,88.8 L1388.9,88.7 L1390.8,88.7 L1392.6,88.6 L1394.5,88.6 L1396.4,88.6 L1398.3,88.5 L1400.1,88.5 L1402.0,88.4 L1403.9,88.4 L1405.8,88.4 L1407.6,88.3 L1409.5,88.3 L1411.4,88.3 L1413.2,88.2 L1415.1,88.2 L1417.0,88.2 L1418.9,88.2 L1420.7,88.1 L1422.6,88.1 L1424.5,88.1 L1426.4,88.1 L1428.2,88.0 L1430.1,88.0 L1432.0,88.0 L1433.9,88.0 L1435.7,88.0 L1437.6,87.9 L1439.5,87.9 L1441.4,87.9 L1443.2,87.9 L1445.1,87.9 L1447.0,87.9 L1448.8,87.8 L1450.7,87.8 L1452.6,87.8 L1454.5,87.8 L1456.3,87.8 L1458.2,87.8 L1460.1,87.8 L1462.0,87.8 L1463.8,87.7 L1465.7,87.7 L1467.6,87.7 L1469.5,87.7 L1471.3,87.7 L1473.2,87.7 L1475.1,87.7 L1476.9,87.7 L1478.8,87.7 L1480.7,87.7 L1482.6,87.7 L1484.4,87.7 L1486.3,87.7 L1488.2,87.6 L1490.1,87.6 L1491.9,87.6 L1493.8,87.6 L1495.7,87.6 L2111.0,87.5" stroke="#0d0d0d" stroke-width="3.3"/>
<path d="M720,1090.5 C740,1089 755,1085.5 766,1083 C780,1080 790,1077.5 799,1075.5 C810,1073.5 815,1072.3 821,1071 C830,1069 837,1067.5 843,1065.6 C850,1063 855,1060 860,1056.8 C866,1053 870,1051.5 876,1049.5 C882,1047.5 886,1046.5 891,1045" stroke="#a6a6a6" stroke-width="2"/>
</g>
<rect x="393.5" y="1089.3" width="262.5" height="2.7" fill="#bdbdbd"/>
<rect x="393.5" y="1092" width="294.5" height="4.8" fill="#5e5e5e"/>
<rect x="393.5" y="1096.8" width="294.5" height="2.7" fill="#d6d6d6"/>
<rect x="656" y="1089.3" width="32" height="2.7" fill="#303030"/>
<rect x="284.8" y="1096.6" width="3.4" height="7.4" fill="#a8a8a8"/>
<rect x="369.2" y="1096.6" width="3.4" height="7.4" fill="#a8a8a8"/>
<rect x="453.5" y="1096.6" width="3.4" height="7.4" fill="#a8a8a8"/>
<rect x="537.9" y="1096.6" width="3.4" height="7.4" fill="#a8a8a8"/>
<rect x="622.3" y="1096.6" width="3.4" height="7.4" fill="#a8a8a8"/>
<rect x="706.6" y="1096.6" width="3.4" height="7.4" fill="#a8a8a8"/>
<rect x="791.0" y="1096.6" width="3.4" height="7.4" fill="#a8a8a8"/>
<rect x="875.4" y="1096.6" width="3.4" height="7.4" fill="#a8a8a8"/>
<rect x="959.8" y="1096.6" width="3.4" height="7.4" fill="#a8a8a8"/>
<rect x="1044.1" y="1096.6" width="3.4" height="7.4" fill="#a8a8a8"/>
<rect x="1128.5" y="1096.6" width="3.4" height="7.4" fill="#a8a8a8"/>
<rect x="1212.9" y="1096.6" width="3.4" height="7.4" fill="#a8a8a8"/>
<rect x="1297.2" y="1096.6" width="3.4" height="7.4" fill="#a8a8a8"/>
<rect x="1381.6" y="1096.6" width="3.4" height="7.4" fill="#a8a8a8"/>
<rect x="1466.0" y="1096.6" width="3.4" height="7.4" fill="#a8a8a8"/>
<rect x="1550.4" y="1096.6" width="3.4" height="7.4" fill="#a8a8a8"/>
<rect x="1634.7" y="1096.6" width="3.4" height="7.4" fill="#a8a8a8"/>
<rect x="1719.1" y="1096.6" width="3.4" height="7.4" fill="#a8a8a8"/>
<rect x="1803.5" y="1096.6" width="3.4" height="7.4" fill="#a8a8a8"/>
<rect x="1887.8" y="1096.6" width="3.4" height="7.4" fill="#a8a8a8"/>
<rect x="1972.2" y="1096.6" width="3.4" height="7.4" fill="#a8a8a8"/>
<rect x="2056.6" y="1096.6" width="3.4" height="7.4" fill="#a8a8a8"/>
<rect x="2140.9" y="1096.6" width="3.4" height="7.4" fill="#a8a8a8"/>
<line x1="1160.0" y1="358.7" x2="1486" y2="358.7" stroke="#111" stroke-width="2.6" stroke-dasharray="12 7"/>
<line x1="1049.0" y1="446.0" x2="1486" y2="446.0" stroke="#111" stroke-width="2.6" stroke-dasharray="12 7"/>
<line x1="1049.0" y1="531.0" x2="1486" y2="531.0" stroke="#111" stroke-width="2.6" stroke-dasharray="12 7"/>
<line x1="1050.0" y1="615.0" x2="1486" y2="615.0" stroke="#111" stroke-width="2.6" stroke-dasharray="12 7"/>
<line x1="887.8" y1="705.3" x2="1486" y2="705.3" stroke="#111" stroke-width="2.6" stroke-dasharray="12 7"/>
<line x1="974.2" y1="787.1" x2="1486" y2="787.1" stroke="#111" stroke-width="2.6" stroke-dasharray="12 7"/>
<line x1="881.6" y1="874.7" x2="1486" y2="874.7" stroke="#111" stroke-width="2.6" stroke-dasharray="12 7"/>
<circle cx="1147.0" cy="359.8" r="13.4" fill="#999999" fill-opacity="0.85" stroke="#5a5a5a" stroke-width="1.6"/>
<circle cx="1036.0" cy="447.0" r="13.4" fill="#999999" fill-opacity="0.85" stroke="#5a5a5a" stroke-width="1.6"/>
<circle cx="1036.0" cy="531.0" r="13.4" fill="#999999" fill-opacity="0.85" stroke="#5a5a5a" stroke-width="1.6"/>
<circle cx="1037.0" cy="615.5" r="13.4" fill="#999999" fill-opacity="0.85" stroke="#5a5a5a" stroke-width="1.6"/>
<circle cx="874.8" cy="704.3" r="13.4" fill="#999999" fill-opacity="0.85" stroke="#5a5a5a" stroke-width="1.6"/>
<circle cx="961.2" cy="787.1" r="13.4" fill="#999999" fill-opacity="0.85" stroke="#5a5a5a" stroke-width="1.6"/>
<circle cx="868.6" cy="875.3" r="13.4" fill="#999999" fill-opacity="0.85" stroke="#5a5a5a" stroke-width="1.6"/>
<text class="lg" x="1502" y="376.2" textLength="538.0" lengthAdjust="spacingAndGlyphs">Wall Structure, Plate-type</text>
<text class="lg" x="1502" y="463.8" textLength="568.5" lengthAdjust="spacingAndGlyphs">Wall Structure, Tower-type</text>
<text class="lg" x="1502" y="547.9" textLength="568.5" lengthAdjust="spacingAndGlyphs">Wall Structure, Mixed-type</text>
<text class="lg" x="1502" y="633.0" textLength="493.6" lengthAdjust="spacingAndGlyphs">Rigid Frame, Plate-type</text>
<text class="lg" x="1502" y="717.3" textLength="524.3" lengthAdjust="spacingAndGlyphs">Rigid Frame, Tower-type</text>
<text class="lg" x="1502" y="802.3" textLength="525.0" lengthAdjust="spacingAndGlyphs">Rigid Frame, Mixed-type</text>
<text class="lg" x="1502" y="890.0" textLength="398.3" lengthAdjust="spacingAndGlyphs">Flat Plate Structure</text>
<text class="tk" x="198.3" y="1104.8" text-anchor="end">0.00</text>
<text class="tk" x="198.3" y="1004.1" text-anchor="end">0.10</text>
<text class="tk" x="198.3" y="903.4" text-anchor="end">0.20</text>
<text class="tk" x="198.3" y="802.7" text-anchor="end">0.30</text>
<text class="tk" x="198.3" y="702.0" text-anchor="end">0.40</text>
<text class="tk" x="198.3" y="601.2" text-anchor="end">0.50</text>
<text class="tk" x="198.3" y="500.5" text-anchor="end">0.60</text>
<text class="tk" x="198.3" y="399.8" text-anchor="end">0.70</text>
<text class="tk" x="198.3" y="299.1" text-anchor="end">0.80</text>
<text class="tk" x="198.3" y="198.4" text-anchor="end">0.90</text>
<text class="tk" x="198.3" y="97.7" text-anchor="end">1.00</text>
<text class="tk" x="2328.3" y="1104.8" text-anchor="end">0</text>
<text class="tk" x="2328.3" y="1004.1" text-anchor="end">1,000</text>
<text class="tk" x="2328.3" y="903.4" text-anchor="end">2,000</text>
<text class="tk" x="2328.3" y="802.7" text-anchor="end">3,000</text>
<text class="tk" x="2328.3" y="702.0" text-anchor="end">4,000</text>
<text class="tk" x="2328.3" y="601.2" text-anchor="end">5,000</text>
<text class="tk" x="2328.3" y="500.5" text-anchor="end">6,000</text>
<text class="tk" x="2328.3" y="399.8" text-anchor="end">7,000</text>
<text class="tk" x="2328.3" y="299.1" text-anchor="end">8,000</text>
<text class="tk" x="2328.3" y="198.4" text-anchor="end">9,000</text>
<text class="tk" x="2328.3" y="97.7" text-anchor="end">10,000</text>
<text class="tk" x="287.1" y="1143.5" text-anchor="middle">10</text>
<text class="tk" x="371.5" y="1143.5" text-anchor="middle">11</text>
<text class="tk" x="455.9" y="1143.5" text-anchor="middle">13</text>
<text class="tk" x="540.3" y="1143.5" text-anchor="middle">14</text>
<text class="tk" x="624.6" y="1143.5" text-anchor="middle">15</text>
<text class="tk" x="709.0" y="1143.5" text-anchor="middle">16</text>
<text class="tk" x="793.4" y="1143.5" text-anchor="middle">17</text>
<text class="tk" x="877.7" y="1143.5" text-anchor="middle">18</text>
<text class="tk" x="962.1" y="1143.5" text-anchor="middle">19</text>
<text class="tk" x="1046.5" y="1143.5" text-anchor="middle">21</text>
<text class="tk" x="1130.9" y="1143.5" text-anchor="middle">22</text>
<text class="tk" x="1215.2" y="1143.5" text-anchor="middle">23</text>
<text class="tk" x="1299.6" y="1143.5" text-anchor="middle">24</text>
<text class="tk" x="1384.0" y="1143.5" text-anchor="middle">25</text>
<text class="tk" x="1468.3" y="1143.5" text-anchor="middle">26</text>
<text class="tk" x="1552.7" y="1143.5" text-anchor="middle">27</text>
<text class="tk" x="1637.1" y="1143.5" text-anchor="middle">29</text>
<text class="tk" x="1721.4" y="1143.5" text-anchor="middle">30</text>
<text class="tk" x="1805.8" y="1143.5" text-anchor="middle">31</text>
<text class="tk" x="1890.2" y="1143.5" text-anchor="middle">32</text>
<text class="tk" x="1974.6" y="1143.5" text-anchor="middle">33</text>
<text class="tk" x="2058.9" y="1143.5" text-anchor="middle">34</text>
<text class="tk" x="2143.3" y="1143.5" text-anchor="middle">35</text>
<text class="ax" transform="translate(64,875.5) rotate(-90)" x="0" y="0" textLength="625.5" lengthAdjust="spacingAndGlyphs">Cumulative Probability</text>
<text class="ax" transform="translate(2377,259.5) rotate(90)" x="0" y="0" textLength="602.5" lengthAdjust="spacingAndGlyphs">Cumulative Frequency</text>
<text class="axb" x="534" y="1239" textLength="1324" lengthAdjust="spacingAndGlyphs">Life cycle embodied environmental cost (USD/m<tspan font-size="40" dy="-18">2</tspan><tspan dy="18">)</tspan></text>
</svg></body></html>
